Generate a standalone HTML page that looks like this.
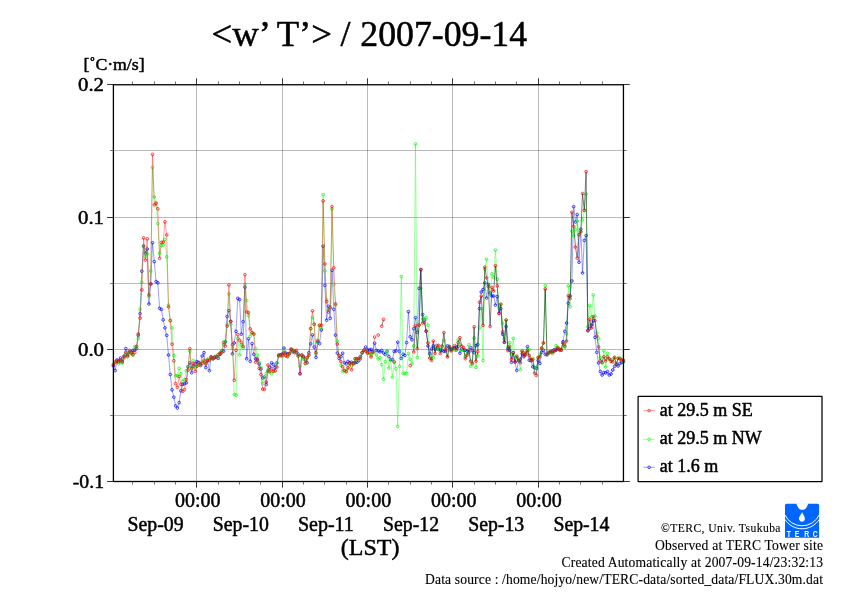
<!DOCTYPE html>
<html><head><meta charset="utf-8"><title>w T flux</title><style>html,body{margin:0;padding:0;background:#fff}body{width:842px;height:595px;overflow:hidden}</style></head><body>
<svg width="842" height="595" viewBox="0 0 842 595" style="display:block;font-family:'Liberation Serif',serif">
<rect width="842" height="595" fill="#fff"/>
<path d="M196.5 84.6 V481.4 M282.5 84.6 V481.4 M367.5 84.6 V481.4 M452.5 84.6 V481.4 M538.5 84.6 V481.4 M113.4 150.5 H623.45 M113.4 217.5 H623.45 M113.4 283.5 H623.45 M113.4 349.5 H623.45 M113.4 415.5 H623.45" stroke="#000" stroke-opacity="0.27" stroke-width="1" fill="none"/>
<polyline points="113.4,366.0 115.2,370.6 117.0,360.0 118.7,361.0 120.5,358.0 122.3,362.0 124.1,356.0 125.8,348.6 127.6,355.0 129.4,352.0 131.2,352.0 132.9,350.4 134.7,350.0 136.5,348.6 138.3,335.3 140.1,313.6 141.8,271.2 143.6,246.0 145.4,253.0 147.2,249.0 148.9,304.0 150.7,284.0 152.5,242.7 154.3,261.6 156.1,281.6 157.8,282.8 159.6,308.3 161.4,309.4 163.2,319.8 164.9,327.9 166.7,335.3 168.5,355.0 170.3,374.5 172.0,389.8 173.8,397.2 175.6,405.8 177.4,408.0 179.2,402.6 180.9,390.8 182.7,384.3 184.5,383.6 186.3,382.8 188.0,366.6 189.8,362.9 191.6,372.7 193.4,366.1 195.2,364.0 196.9,361.5 198.7,362.4 200.5,365.5 202.2,356.0 204.0,352.6 205.8,367.6 207.6,360.8 209.4,370.7 211.1,356.8 212.9,358.9 214.7,357.3 216.5,356.7 218.2,358.3 220.0,354.3 221.8,350.8 223.6,351.2 225.4,341.9 227.1,316.5 228.9,310.6 230.7,321.5 232.5,353.8 234.2,343.0 236.0,331.3 237.8,298.4 239.6,299.6 241.3,334.2 243.1,321.7 244.9,287.2 246.7,358.8 248.5,338.8 250.2,361.3 252.0,343.6 253.8,354.3 255.6,358.8 257.4,360.0 259.1,364.0 260.9,369.0 262.7,378.0 264.4,377.1 266.2,384.6 268.0,371.0 269.8,367.3 271.6,362.8 273.3,364.5 275.1,367.3 276.9,362.8 278.7,356.0 280.4,355.0 282.2,354.0 284.0,348.1 285.8,353.0 287.6,354.0 289.3,353.7 291.1,349.2 292.9,351.7 294.7,351.0 296.4,352.6 298.2,354.2 300.0,373.7 301.8,355.2 303.6,357.0 305.3,360.0 307.1,362.8 308.9,352.7 310.7,343.9 312.4,334.9 314.2,347.1 316.0,357.4 317.8,341.9 319.5,343.6 321.3,330.0 323.1,246.1 324.9,285.4 326.6,320.2 328.4,306.3 330.2,318.4 332.0,270.3 333.8,309.3 335.5,335.1 337.3,353.1 339.1,358.4 340.9,356.7 342.6,353.2 344.4,362.8 346.2,363.8 348.0,361.4 349.8,362.8 351.5,362.3 353.3,363.0 355.1,362.8 356.9,362.3 358.6,360.7 360.4,356.7 362.2,352.5 364.0,350.3 365.8,347.1 367.5,350.0 369.3,349.9 371.1,349.4 372.9,351.4 374.6,343.2 376.4,350.4 378.2,350.9 380.0,351.9 381.7,350.4 383.5,353.0 385.3,354.5 387.1,351.4 388.9,356.5 390.6,360.0 392.4,359.5 394.2,351.4 396.0,350.9 397.7,342.1 399.5,351.4 401.3,358.5 403.1,354.3 404.8,355.5 406.6,342.6 408.4,311.6 410.2,336.8 411.9,339.8 413.7,328.7 415.5,317.6 417.3,332.3 419.1,288.3 420.8,269.6 422.6,314.6 424.4,320.1 426.2,331.2 427.9,345.9 429.7,353.5 431.5,348.9 433.3,345.9 435.1,349.4 436.8,348.4 438.6,349.4 440.4,349.9 442.2,350.4 443.9,351.4 445.7,350.9 447.5,345.9 449.3,347.4 451.1,349.4 452.8,348.4 454.6,348.0 456.4,347.1 458.2,346.6 459.9,353.2 461.7,349.0 463.5,350.0 465.3,350.1 467.0,351.2 468.8,352.2 470.6,347.6 472.4,350.6 474.1,352.7 475.9,345.6 477.7,344.6 479.5,308.6 481.3,292.0 483.0,289.5 484.8,282.9 486.6,298.0 488.4,284.4 490.1,293.0 491.9,296.0 493.7,296.0 495.5,305.1 497.2,296.5 499.0,313.4 500.8,308.6 502.6,334.2 504.4,342.3 506.1,326.5 507.9,348.5 509.7,350.1 511.5,362.3 513.2,352.7 515.0,362.0 516.8,370.5 518.6,360.7 520.4,359.2 522.1,353.7 523.9,356.7 525.7,354.7 527.5,346.6 529.2,360.2 531.0,360.7 532.8,366.8 534.6,367.5 536.4,368.3 538.1,360.4 539.9,363.4 541.7,352.3 543.5,350.3 545.2,354.3 547.0,354.8 548.8,353.0 550.6,352.0 552.3,351.0 554.1,349.8 555.9,350.0 557.7,349.0 559.5,349.2 561.2,350.3 563.0,341.7 564.8,331.3 566.6,323.0 568.3,303.2 570.1,296.0 571.9,281.0 573.7,206.6 575.5,222.0 577.2,214.5 579.0,262.2 580.8,229.3 582.5,273.0 584.3,240.4 586.1,235.5 587.9,330.6 589.7,328.6 591.4,325.0 593.2,321.0 595.0,337.4 596.8,352.3 598.5,362.9 600.3,371.5 602.1,375.0 603.9,372.5 605.7,373.0 607.4,371.5 609.2,375.0 611.0,374.0 612.8,370.0 614.5,366.4 616.3,364.4 618.1,366.0 619.9,363.4 621.6,362.4 623.4,362.0" fill="none" stroke="#0000ff" stroke-width="0.38"/>
<path d="M112.05 366.0a1.35 1.35 0 1 0 2.7 0a1.35 1.35 0 1 0 -2.7 0M113.83 370.6a1.35 1.35 0 1 0 2.7 0a1.35 1.35 0 1 0 -2.7 0M115.60 360.0a1.35 1.35 0 1 0 2.7 0a1.35 1.35 0 1 0 -2.7 0M117.38 361.0a1.35 1.35 0 1 0 2.7 0a1.35 1.35 0 1 0 -2.7 0M119.16 358.0a1.35 1.35 0 1 0 2.7 0a1.35 1.35 0 1 0 -2.7 0M120.94 362.0a1.35 1.35 0 1 0 2.7 0a1.35 1.35 0 1 0 -2.7 0M122.71 356.0a1.35 1.35 0 1 0 2.7 0a1.35 1.35 0 1 0 -2.7 0M124.49 348.6a1.35 1.35 0 1 0 2.7 0a1.35 1.35 0 1 0 -2.7 0M126.27 355.0a1.35 1.35 0 1 0 2.7 0a1.35 1.35 0 1 0 -2.7 0M128.04 352.0a1.35 1.35 0 1 0 2.7 0a1.35 1.35 0 1 0 -2.7 0M129.82 352.0a1.35 1.35 0 1 0 2.7 0a1.35 1.35 0 1 0 -2.7 0M131.60 350.4a1.35 1.35 0 1 0 2.7 0a1.35 1.35 0 1 0 -2.7 0M133.38 350.0a1.35 1.35 0 1 0 2.7 0a1.35 1.35 0 1 0 -2.7 0M135.15 348.6a1.35 1.35 0 1 0 2.7 0a1.35 1.35 0 1 0 -2.7 0M136.93 335.3a1.35 1.35 0 1 0 2.7 0a1.35 1.35 0 1 0 -2.7 0M138.71 313.6a1.35 1.35 0 1 0 2.7 0a1.35 1.35 0 1 0 -2.7 0M140.48 271.2a1.35 1.35 0 1 0 2.7 0a1.35 1.35 0 1 0 -2.7 0M142.26 246.0a1.35 1.35 0 1 0 2.7 0a1.35 1.35 0 1 0 -2.7 0M144.04 253.0a1.35 1.35 0 1 0 2.7 0a1.35 1.35 0 1 0 -2.7 0M145.81 249.0a1.35 1.35 0 1 0 2.7 0a1.35 1.35 0 1 0 -2.7 0M147.59 304.0a1.35 1.35 0 1 0 2.7 0a1.35 1.35 0 1 0 -2.7 0M149.37 284.0a1.35 1.35 0 1 0 2.7 0a1.35 1.35 0 1 0 -2.7 0M151.15 242.7a1.35 1.35 0 1 0 2.7 0a1.35 1.35 0 1 0 -2.7 0M152.92 261.6a1.35 1.35 0 1 0 2.7 0a1.35 1.35 0 1 0 -2.7 0M154.70 281.6a1.35 1.35 0 1 0 2.7 0a1.35 1.35 0 1 0 -2.7 0M156.48 282.8a1.35 1.35 0 1 0 2.7 0a1.35 1.35 0 1 0 -2.7 0M158.25 308.3a1.35 1.35 0 1 0 2.7 0a1.35 1.35 0 1 0 -2.7 0M160.03 309.4a1.35 1.35 0 1 0 2.7 0a1.35 1.35 0 1 0 -2.7 0M161.81 319.8a1.35 1.35 0 1 0 2.7 0a1.35 1.35 0 1 0 -2.7 0M163.59 327.9a1.35 1.35 0 1 0 2.7 0a1.35 1.35 0 1 0 -2.7 0M165.36 335.3a1.35 1.35 0 1 0 2.7 0a1.35 1.35 0 1 0 -2.7 0M167.14 355.0a1.35 1.35 0 1 0 2.7 0a1.35 1.35 0 1 0 -2.7 0M168.92 374.5a1.35 1.35 0 1 0 2.7 0a1.35 1.35 0 1 0 -2.7 0M170.69 389.8a1.35 1.35 0 1 0 2.7 0a1.35 1.35 0 1 0 -2.7 0M172.47 397.2a1.35 1.35 0 1 0 2.7 0a1.35 1.35 0 1 0 -2.7 0M174.25 405.8a1.35 1.35 0 1 0 2.7 0a1.35 1.35 0 1 0 -2.7 0M176.03 408.0a1.35 1.35 0 1 0 2.7 0a1.35 1.35 0 1 0 -2.7 0M177.80 402.6a1.35 1.35 0 1 0 2.7 0a1.35 1.35 0 1 0 -2.7 0M179.58 390.8a1.35 1.35 0 1 0 2.7 0a1.35 1.35 0 1 0 -2.7 0M181.36 384.3a1.35 1.35 0 1 0 2.7 0a1.35 1.35 0 1 0 -2.7 0M183.13 383.6a1.35 1.35 0 1 0 2.7 0a1.35 1.35 0 1 0 -2.7 0M184.91 382.8a1.35 1.35 0 1 0 2.7 0a1.35 1.35 0 1 0 -2.7 0M186.69 366.6a1.35 1.35 0 1 0 2.7 0a1.35 1.35 0 1 0 -2.7 0M188.47 362.9a1.35 1.35 0 1 0 2.7 0a1.35 1.35 0 1 0 -2.7 0M190.24 372.7a1.35 1.35 0 1 0 2.7 0a1.35 1.35 0 1 0 -2.7 0M192.02 366.1a1.35 1.35 0 1 0 2.7 0a1.35 1.35 0 1 0 -2.7 0M193.80 364.0a1.35 1.35 0 1 0 2.7 0a1.35 1.35 0 1 0 -2.7 0M195.57 361.5a1.35 1.35 0 1 0 2.7 0a1.35 1.35 0 1 0 -2.7 0M197.35 362.4a1.35 1.35 0 1 0 2.7 0a1.35 1.35 0 1 0 -2.7 0M199.13 365.5a1.35 1.35 0 1 0 2.7 0a1.35 1.35 0 1 0 -2.7 0M200.90 356.0a1.35 1.35 0 1 0 2.7 0a1.35 1.35 0 1 0 -2.7 0M202.68 352.6a1.35 1.35 0 1 0 2.7 0a1.35 1.35 0 1 0 -2.7 0M204.46 367.6a1.35 1.35 0 1 0 2.7 0a1.35 1.35 0 1 0 -2.7 0M206.24 360.8a1.35 1.35 0 1 0 2.7 0a1.35 1.35 0 1 0 -2.7 0M208.01 370.7a1.35 1.35 0 1 0 2.7 0a1.35 1.35 0 1 0 -2.7 0M209.79 356.8a1.35 1.35 0 1 0 2.7 0a1.35 1.35 0 1 0 -2.7 0M211.57 358.9a1.35 1.35 0 1 0 2.7 0a1.35 1.35 0 1 0 -2.7 0M213.34 357.3a1.35 1.35 0 1 0 2.7 0a1.35 1.35 0 1 0 -2.7 0M215.12 356.7a1.35 1.35 0 1 0 2.7 0a1.35 1.35 0 1 0 -2.7 0M216.90 358.3a1.35 1.35 0 1 0 2.7 0a1.35 1.35 0 1 0 -2.7 0M218.68 354.3a1.35 1.35 0 1 0 2.7 0a1.35 1.35 0 1 0 -2.7 0M220.45 350.8a1.35 1.35 0 1 0 2.7 0a1.35 1.35 0 1 0 -2.7 0M222.23 351.2a1.35 1.35 0 1 0 2.7 0a1.35 1.35 0 1 0 -2.7 0M224.01 341.9a1.35 1.35 0 1 0 2.7 0a1.35 1.35 0 1 0 -2.7 0M225.78 316.5a1.35 1.35 0 1 0 2.7 0a1.35 1.35 0 1 0 -2.7 0M227.56 310.6a1.35 1.35 0 1 0 2.7 0a1.35 1.35 0 1 0 -2.7 0M229.34 321.5a1.35 1.35 0 1 0 2.7 0a1.35 1.35 0 1 0 -2.7 0M231.12 353.8a1.35 1.35 0 1 0 2.7 0a1.35 1.35 0 1 0 -2.7 0M232.89 343.0a1.35 1.35 0 1 0 2.7 0a1.35 1.35 0 1 0 -2.7 0M234.67 331.3a1.35 1.35 0 1 0 2.7 0a1.35 1.35 0 1 0 -2.7 0M236.45 298.4a1.35 1.35 0 1 0 2.7 0a1.35 1.35 0 1 0 -2.7 0M238.22 299.6a1.35 1.35 0 1 0 2.7 0a1.35 1.35 0 1 0 -2.7 0M240.00 334.2a1.35 1.35 0 1 0 2.7 0a1.35 1.35 0 1 0 -2.7 0M241.78 321.7a1.35 1.35 0 1 0 2.7 0a1.35 1.35 0 1 0 -2.7 0M243.56 287.2a1.35 1.35 0 1 0 2.7 0a1.35 1.35 0 1 0 -2.7 0M245.33 358.8a1.35 1.35 0 1 0 2.7 0a1.35 1.35 0 1 0 -2.7 0M247.11 338.8a1.35 1.35 0 1 0 2.7 0a1.35 1.35 0 1 0 -2.7 0M248.89 361.3a1.35 1.35 0 1 0 2.7 0a1.35 1.35 0 1 0 -2.7 0M250.66 343.6a1.35 1.35 0 1 0 2.7 0a1.35 1.35 0 1 0 -2.7 0M252.44 354.3a1.35 1.35 0 1 0 2.7 0a1.35 1.35 0 1 0 -2.7 0M254.22 358.8a1.35 1.35 0 1 0 2.7 0a1.35 1.35 0 1 0 -2.7 0M256.00 360.0a1.35 1.35 0 1 0 2.7 0a1.35 1.35 0 1 0 -2.7 0M257.77 364.0a1.35 1.35 0 1 0 2.7 0a1.35 1.35 0 1 0 -2.7 0M259.55 369.0a1.35 1.35 0 1 0 2.7 0a1.35 1.35 0 1 0 -2.7 0M261.33 378.0a1.35 1.35 0 1 0 2.7 0a1.35 1.35 0 1 0 -2.7 0M263.10 377.1a1.35 1.35 0 1 0 2.7 0a1.35 1.35 0 1 0 -2.7 0M264.88 384.6a1.35 1.35 0 1 0 2.7 0a1.35 1.35 0 1 0 -2.7 0M266.66 371.0a1.35 1.35 0 1 0 2.7 0a1.35 1.35 0 1 0 -2.7 0M268.43 367.3a1.35 1.35 0 1 0 2.7 0a1.35 1.35 0 1 0 -2.7 0M270.21 362.8a1.35 1.35 0 1 0 2.7 0a1.35 1.35 0 1 0 -2.7 0M271.99 364.5a1.35 1.35 0 1 0 2.7 0a1.35 1.35 0 1 0 -2.7 0M273.77 367.3a1.35 1.35 0 1 0 2.7 0a1.35 1.35 0 1 0 -2.7 0M275.54 362.8a1.35 1.35 0 1 0 2.7 0a1.35 1.35 0 1 0 -2.7 0M277.32 356.0a1.35 1.35 0 1 0 2.7 0a1.35 1.35 0 1 0 -2.7 0M279.10 355.0a1.35 1.35 0 1 0 2.7 0a1.35 1.35 0 1 0 -2.7 0M280.87 354.0a1.35 1.35 0 1 0 2.7 0a1.35 1.35 0 1 0 -2.7 0M282.65 348.1a1.35 1.35 0 1 0 2.7 0a1.35 1.35 0 1 0 -2.7 0M284.43 353.0a1.35 1.35 0 1 0 2.7 0a1.35 1.35 0 1 0 -2.7 0M286.21 354.0a1.35 1.35 0 1 0 2.7 0a1.35 1.35 0 1 0 -2.7 0M287.98 353.7a1.35 1.35 0 1 0 2.7 0a1.35 1.35 0 1 0 -2.7 0M289.76 349.2a1.35 1.35 0 1 0 2.7 0a1.35 1.35 0 1 0 -2.7 0M291.54 351.7a1.35 1.35 0 1 0 2.7 0a1.35 1.35 0 1 0 -2.7 0M293.31 351.0a1.35 1.35 0 1 0 2.7 0a1.35 1.35 0 1 0 -2.7 0M295.09 352.6a1.35 1.35 0 1 0 2.7 0a1.35 1.35 0 1 0 -2.7 0M296.87 354.2a1.35 1.35 0 1 0 2.7 0a1.35 1.35 0 1 0 -2.7 0M298.65 373.7a1.35 1.35 0 1 0 2.7 0a1.35 1.35 0 1 0 -2.7 0M300.42 355.2a1.35 1.35 0 1 0 2.7 0a1.35 1.35 0 1 0 -2.7 0M302.20 357.0a1.35 1.35 0 1 0 2.7 0a1.35 1.35 0 1 0 -2.7 0M303.98 360.0a1.35 1.35 0 1 0 2.7 0a1.35 1.35 0 1 0 -2.7 0M305.75 362.8a1.35 1.35 0 1 0 2.7 0a1.35 1.35 0 1 0 -2.7 0M307.53 352.7a1.35 1.35 0 1 0 2.7 0a1.35 1.35 0 1 0 -2.7 0M309.31 343.9a1.35 1.35 0 1 0 2.7 0a1.35 1.35 0 1 0 -2.7 0M311.09 334.9a1.35 1.35 0 1 0 2.7 0a1.35 1.35 0 1 0 -2.7 0M312.86 347.1a1.35 1.35 0 1 0 2.7 0a1.35 1.35 0 1 0 -2.7 0M314.64 357.4a1.35 1.35 0 1 0 2.7 0a1.35 1.35 0 1 0 -2.7 0M316.42 341.9a1.35 1.35 0 1 0 2.7 0a1.35 1.35 0 1 0 -2.7 0M318.19 343.6a1.35 1.35 0 1 0 2.7 0a1.35 1.35 0 1 0 -2.7 0M319.97 330.0a1.35 1.35 0 1 0 2.7 0a1.35 1.35 0 1 0 -2.7 0M321.75 246.1a1.35 1.35 0 1 0 2.7 0a1.35 1.35 0 1 0 -2.7 0M323.52 285.4a1.35 1.35 0 1 0 2.7 0a1.35 1.35 0 1 0 -2.7 0M325.30 320.2a1.35 1.35 0 1 0 2.7 0a1.35 1.35 0 1 0 -2.7 0M327.08 306.3a1.35 1.35 0 1 0 2.7 0a1.35 1.35 0 1 0 -2.7 0M328.86 318.4a1.35 1.35 0 1 0 2.7 0a1.35 1.35 0 1 0 -2.7 0M330.63 270.3a1.35 1.35 0 1 0 2.7 0a1.35 1.35 0 1 0 -2.7 0M332.41 309.3a1.35 1.35 0 1 0 2.7 0a1.35 1.35 0 1 0 -2.7 0M334.19 335.1a1.35 1.35 0 1 0 2.7 0a1.35 1.35 0 1 0 -2.7 0M335.96 353.1a1.35 1.35 0 1 0 2.7 0a1.35 1.35 0 1 0 -2.7 0M337.74 358.4a1.35 1.35 0 1 0 2.7 0a1.35 1.35 0 1 0 -2.7 0M339.52 356.7a1.35 1.35 0 1 0 2.7 0a1.35 1.35 0 1 0 -2.7 0M341.30 353.2a1.35 1.35 0 1 0 2.7 0a1.35 1.35 0 1 0 -2.7 0M343.07 362.8a1.35 1.35 0 1 0 2.7 0a1.35 1.35 0 1 0 -2.7 0M344.85 363.8a1.35 1.35 0 1 0 2.7 0a1.35 1.35 0 1 0 -2.7 0M346.63 361.4a1.35 1.35 0 1 0 2.7 0a1.35 1.35 0 1 0 -2.7 0M348.40 362.8a1.35 1.35 0 1 0 2.7 0a1.35 1.35 0 1 0 -2.7 0M350.18 362.3a1.35 1.35 0 1 0 2.7 0a1.35 1.35 0 1 0 -2.7 0M351.96 363.0a1.35 1.35 0 1 0 2.7 0a1.35 1.35 0 1 0 -2.7 0M353.74 362.8a1.35 1.35 0 1 0 2.7 0a1.35 1.35 0 1 0 -2.7 0M355.51 362.3a1.35 1.35 0 1 0 2.7 0a1.35 1.35 0 1 0 -2.7 0M357.29 360.7a1.35 1.35 0 1 0 2.7 0a1.35 1.35 0 1 0 -2.7 0M359.07 356.7a1.35 1.35 0 1 0 2.7 0a1.35 1.35 0 1 0 -2.7 0M360.84 352.5a1.35 1.35 0 1 0 2.7 0a1.35 1.35 0 1 0 -2.7 0M362.62 350.3a1.35 1.35 0 1 0 2.7 0a1.35 1.35 0 1 0 -2.7 0M364.40 347.1a1.35 1.35 0 1 0 2.7 0a1.35 1.35 0 1 0 -2.7 0M366.18 350.0a1.35 1.35 0 1 0 2.7 0a1.35 1.35 0 1 0 -2.7 0M367.95 349.9a1.35 1.35 0 1 0 2.7 0a1.35 1.35 0 1 0 -2.7 0M369.73 349.4a1.35 1.35 0 1 0 2.7 0a1.35 1.35 0 1 0 -2.7 0M371.51 351.4a1.35 1.35 0 1 0 2.7 0a1.35 1.35 0 1 0 -2.7 0M373.28 343.2a1.35 1.35 0 1 0 2.7 0a1.35 1.35 0 1 0 -2.7 0M375.06 350.4a1.35 1.35 0 1 0 2.7 0a1.35 1.35 0 1 0 -2.7 0M376.84 350.9a1.35 1.35 0 1 0 2.7 0a1.35 1.35 0 1 0 -2.7 0M378.62 351.9a1.35 1.35 0 1 0 2.7 0a1.35 1.35 0 1 0 -2.7 0M380.39 350.4a1.35 1.35 0 1 0 2.7 0a1.35 1.35 0 1 0 -2.7 0M382.17 353.0a1.35 1.35 0 1 0 2.7 0a1.35 1.35 0 1 0 -2.7 0M383.95 354.5a1.35 1.35 0 1 0 2.7 0a1.35 1.35 0 1 0 -2.7 0M385.72 351.4a1.35 1.35 0 1 0 2.7 0a1.35 1.35 0 1 0 -2.7 0M387.50 356.5a1.35 1.35 0 1 0 2.7 0a1.35 1.35 0 1 0 -2.7 0M389.28 360.0a1.35 1.35 0 1 0 2.7 0a1.35 1.35 0 1 0 -2.7 0M391.05 359.5a1.35 1.35 0 1 0 2.7 0a1.35 1.35 0 1 0 -2.7 0M392.83 351.4a1.35 1.35 0 1 0 2.7 0a1.35 1.35 0 1 0 -2.7 0M394.61 350.9a1.35 1.35 0 1 0 2.7 0a1.35 1.35 0 1 0 -2.7 0M396.39 342.1a1.35 1.35 0 1 0 2.7 0a1.35 1.35 0 1 0 -2.7 0M398.16 351.4a1.35 1.35 0 1 0 2.7 0a1.35 1.35 0 1 0 -2.7 0M399.94 358.5a1.35 1.35 0 1 0 2.7 0a1.35 1.35 0 1 0 -2.7 0M401.72 354.3a1.35 1.35 0 1 0 2.7 0a1.35 1.35 0 1 0 -2.7 0M403.49 355.5a1.35 1.35 0 1 0 2.7 0a1.35 1.35 0 1 0 -2.7 0M405.27 342.6a1.35 1.35 0 1 0 2.7 0a1.35 1.35 0 1 0 -2.7 0M407.05 311.6a1.35 1.35 0 1 0 2.7 0a1.35 1.35 0 1 0 -2.7 0M408.83 336.8a1.35 1.35 0 1 0 2.7 0a1.35 1.35 0 1 0 -2.7 0M410.60 339.8a1.35 1.35 0 1 0 2.7 0a1.35 1.35 0 1 0 -2.7 0M412.38 328.7a1.35 1.35 0 1 0 2.7 0a1.35 1.35 0 1 0 -2.7 0M414.16 317.6a1.35 1.35 0 1 0 2.7 0a1.35 1.35 0 1 0 -2.7 0M415.93 332.3a1.35 1.35 0 1 0 2.7 0a1.35 1.35 0 1 0 -2.7 0M417.71 288.3a1.35 1.35 0 1 0 2.7 0a1.35 1.35 0 1 0 -2.7 0M419.49 269.6a1.35 1.35 0 1 0 2.7 0a1.35 1.35 0 1 0 -2.7 0M421.27 314.6a1.35 1.35 0 1 0 2.7 0a1.35 1.35 0 1 0 -2.7 0M423.04 320.1a1.35 1.35 0 1 0 2.7 0a1.35 1.35 0 1 0 -2.7 0M424.82 331.2a1.35 1.35 0 1 0 2.7 0a1.35 1.35 0 1 0 -2.7 0M426.60 345.9a1.35 1.35 0 1 0 2.7 0a1.35 1.35 0 1 0 -2.7 0M428.37 353.5a1.35 1.35 0 1 0 2.7 0a1.35 1.35 0 1 0 -2.7 0M430.15 348.9a1.35 1.35 0 1 0 2.7 0a1.35 1.35 0 1 0 -2.7 0M431.93 345.9a1.35 1.35 0 1 0 2.7 0a1.35 1.35 0 1 0 -2.7 0M433.71 349.4a1.35 1.35 0 1 0 2.7 0a1.35 1.35 0 1 0 -2.7 0M435.48 348.4a1.35 1.35 0 1 0 2.7 0a1.35 1.35 0 1 0 -2.7 0M437.26 349.4a1.35 1.35 0 1 0 2.7 0a1.35 1.35 0 1 0 -2.7 0M439.04 349.9a1.35 1.35 0 1 0 2.7 0a1.35 1.35 0 1 0 -2.7 0M440.81 350.4a1.35 1.35 0 1 0 2.7 0a1.35 1.35 0 1 0 -2.7 0M442.59 351.4a1.35 1.35 0 1 0 2.7 0a1.35 1.35 0 1 0 -2.7 0M444.37 350.9a1.35 1.35 0 1 0 2.7 0a1.35 1.35 0 1 0 -2.7 0M446.14 345.9a1.35 1.35 0 1 0 2.7 0a1.35 1.35 0 1 0 -2.7 0M447.92 347.4a1.35 1.35 0 1 0 2.7 0a1.35 1.35 0 1 0 -2.7 0M449.70 349.4a1.35 1.35 0 1 0 2.7 0a1.35 1.35 0 1 0 -2.7 0M451.48 348.4a1.35 1.35 0 1 0 2.7 0a1.35 1.35 0 1 0 -2.7 0M453.25 348.0a1.35 1.35 0 1 0 2.7 0a1.35 1.35 0 1 0 -2.7 0M455.03 347.1a1.35 1.35 0 1 0 2.7 0a1.35 1.35 0 1 0 -2.7 0M456.81 346.6a1.35 1.35 0 1 0 2.7 0a1.35 1.35 0 1 0 -2.7 0M458.58 353.2a1.35 1.35 0 1 0 2.7 0a1.35 1.35 0 1 0 -2.7 0M460.36 349.0a1.35 1.35 0 1 0 2.7 0a1.35 1.35 0 1 0 -2.7 0M462.14 350.0a1.35 1.35 0 1 0 2.7 0a1.35 1.35 0 1 0 -2.7 0M463.92 350.1a1.35 1.35 0 1 0 2.7 0a1.35 1.35 0 1 0 -2.7 0M465.69 351.2a1.35 1.35 0 1 0 2.7 0a1.35 1.35 0 1 0 -2.7 0M467.47 352.2a1.35 1.35 0 1 0 2.7 0a1.35 1.35 0 1 0 -2.7 0M469.25 347.6a1.35 1.35 0 1 0 2.7 0a1.35 1.35 0 1 0 -2.7 0M471.02 350.6a1.35 1.35 0 1 0 2.7 0a1.35 1.35 0 1 0 -2.7 0M472.80 352.7a1.35 1.35 0 1 0 2.7 0a1.35 1.35 0 1 0 -2.7 0M474.58 345.6a1.35 1.35 0 1 0 2.7 0a1.35 1.35 0 1 0 -2.7 0M476.36 344.6a1.35 1.35 0 1 0 2.7 0a1.35 1.35 0 1 0 -2.7 0M478.13 308.6a1.35 1.35 0 1 0 2.7 0a1.35 1.35 0 1 0 -2.7 0M479.91 292.0a1.35 1.35 0 1 0 2.7 0a1.35 1.35 0 1 0 -2.7 0M481.69 289.5a1.35 1.35 0 1 0 2.7 0a1.35 1.35 0 1 0 -2.7 0M483.46 282.9a1.35 1.35 0 1 0 2.7 0a1.35 1.35 0 1 0 -2.7 0M485.24 298.0a1.35 1.35 0 1 0 2.7 0a1.35 1.35 0 1 0 -2.7 0M487.02 284.4a1.35 1.35 0 1 0 2.7 0a1.35 1.35 0 1 0 -2.7 0M488.80 293.0a1.35 1.35 0 1 0 2.7 0a1.35 1.35 0 1 0 -2.7 0M490.57 296.0a1.35 1.35 0 1 0 2.7 0a1.35 1.35 0 1 0 -2.7 0M492.35 296.0a1.35 1.35 0 1 0 2.7 0a1.35 1.35 0 1 0 -2.7 0M494.13 305.1a1.35 1.35 0 1 0 2.7 0a1.35 1.35 0 1 0 -2.7 0M495.90 296.5a1.35 1.35 0 1 0 2.7 0a1.35 1.35 0 1 0 -2.7 0M497.68 313.4a1.35 1.35 0 1 0 2.7 0a1.35 1.35 0 1 0 -2.7 0M499.46 308.6a1.35 1.35 0 1 0 2.7 0a1.35 1.35 0 1 0 -2.7 0M501.23 334.2a1.35 1.35 0 1 0 2.7 0a1.35 1.35 0 1 0 -2.7 0M503.01 342.3a1.35 1.35 0 1 0 2.7 0a1.35 1.35 0 1 0 -2.7 0M504.79 326.5a1.35 1.35 0 1 0 2.7 0a1.35 1.35 0 1 0 -2.7 0M506.57 348.5a1.35 1.35 0 1 0 2.7 0a1.35 1.35 0 1 0 -2.7 0M508.34 350.1a1.35 1.35 0 1 0 2.7 0a1.35 1.35 0 1 0 -2.7 0M510.12 362.3a1.35 1.35 0 1 0 2.7 0a1.35 1.35 0 1 0 -2.7 0M511.90 352.7a1.35 1.35 0 1 0 2.7 0a1.35 1.35 0 1 0 -2.7 0M513.67 362.0a1.35 1.35 0 1 0 2.7 0a1.35 1.35 0 1 0 -2.7 0M515.45 370.5a1.35 1.35 0 1 0 2.7 0a1.35 1.35 0 1 0 -2.7 0M517.23 360.7a1.35 1.35 0 1 0 2.7 0a1.35 1.35 0 1 0 -2.7 0M519.01 359.2a1.35 1.35 0 1 0 2.7 0a1.35 1.35 0 1 0 -2.7 0M520.78 353.7a1.35 1.35 0 1 0 2.7 0a1.35 1.35 0 1 0 -2.7 0M522.56 356.7a1.35 1.35 0 1 0 2.7 0a1.35 1.35 0 1 0 -2.7 0M524.34 354.7a1.35 1.35 0 1 0 2.7 0a1.35 1.35 0 1 0 -2.7 0M526.11 346.6a1.35 1.35 0 1 0 2.7 0a1.35 1.35 0 1 0 -2.7 0M527.89 360.2a1.35 1.35 0 1 0 2.7 0a1.35 1.35 0 1 0 -2.7 0M529.67 360.7a1.35 1.35 0 1 0 2.7 0a1.35 1.35 0 1 0 -2.7 0M531.45 366.8a1.35 1.35 0 1 0 2.7 0a1.35 1.35 0 1 0 -2.7 0M533.22 367.5a1.35 1.35 0 1 0 2.7 0a1.35 1.35 0 1 0 -2.7 0M535.00 368.3a1.35 1.35 0 1 0 2.7 0a1.35 1.35 0 1 0 -2.7 0M536.78 360.4a1.35 1.35 0 1 0 2.7 0a1.35 1.35 0 1 0 -2.7 0M538.55 363.4a1.35 1.35 0 1 0 2.7 0a1.35 1.35 0 1 0 -2.7 0M540.33 352.3a1.35 1.35 0 1 0 2.7 0a1.35 1.35 0 1 0 -2.7 0M542.11 350.3a1.35 1.35 0 1 0 2.7 0a1.35 1.35 0 1 0 -2.7 0M543.89 354.3a1.35 1.35 0 1 0 2.7 0a1.35 1.35 0 1 0 -2.7 0M545.66 354.8a1.35 1.35 0 1 0 2.7 0a1.35 1.35 0 1 0 -2.7 0M547.44 353.0a1.35 1.35 0 1 0 2.7 0a1.35 1.35 0 1 0 -2.7 0M549.22 352.0a1.35 1.35 0 1 0 2.7 0a1.35 1.35 0 1 0 -2.7 0M550.99 351.0a1.35 1.35 0 1 0 2.7 0a1.35 1.35 0 1 0 -2.7 0M552.77 349.8a1.35 1.35 0 1 0 2.7 0a1.35 1.35 0 1 0 -2.7 0M554.55 350.0a1.35 1.35 0 1 0 2.7 0a1.35 1.35 0 1 0 -2.7 0M556.32 349.0a1.35 1.35 0 1 0 2.7 0a1.35 1.35 0 1 0 -2.7 0M558.10 349.2a1.35 1.35 0 1 0 2.7 0a1.35 1.35 0 1 0 -2.7 0M559.88 350.3a1.35 1.35 0 1 0 2.7 0a1.35 1.35 0 1 0 -2.7 0M561.66 341.7a1.35 1.35 0 1 0 2.7 0a1.35 1.35 0 1 0 -2.7 0M563.43 331.3a1.35 1.35 0 1 0 2.7 0a1.35 1.35 0 1 0 -2.7 0M565.21 323.0a1.35 1.35 0 1 0 2.7 0a1.35 1.35 0 1 0 -2.7 0M566.99 303.2a1.35 1.35 0 1 0 2.7 0a1.35 1.35 0 1 0 -2.7 0M568.76 296.0a1.35 1.35 0 1 0 2.7 0a1.35 1.35 0 1 0 -2.7 0M570.54 281.0a1.35 1.35 0 1 0 2.7 0a1.35 1.35 0 1 0 -2.7 0M572.32 206.6a1.35 1.35 0 1 0 2.7 0a1.35 1.35 0 1 0 -2.7 0M574.10 222.0a1.35 1.35 0 1 0 2.7 0a1.35 1.35 0 1 0 -2.7 0M575.87 214.5a1.35 1.35 0 1 0 2.7 0a1.35 1.35 0 1 0 -2.7 0M577.65 262.2a1.35 1.35 0 1 0 2.7 0a1.35 1.35 0 1 0 -2.7 0M579.43 229.3a1.35 1.35 0 1 0 2.7 0a1.35 1.35 0 1 0 -2.7 0M581.20 273.0a1.35 1.35 0 1 0 2.7 0a1.35 1.35 0 1 0 -2.7 0M582.98 240.4a1.35 1.35 0 1 0 2.7 0a1.35 1.35 0 1 0 -2.7 0M584.76 235.5a1.35 1.35 0 1 0 2.7 0a1.35 1.35 0 1 0 -2.7 0M586.54 330.6a1.35 1.35 0 1 0 2.7 0a1.35 1.35 0 1 0 -2.7 0M588.31 328.6a1.35 1.35 0 1 0 2.7 0a1.35 1.35 0 1 0 -2.7 0M590.09 325.0a1.35 1.35 0 1 0 2.7 0a1.35 1.35 0 1 0 -2.7 0M591.87 321.0a1.35 1.35 0 1 0 2.7 0a1.35 1.35 0 1 0 -2.7 0M593.64 337.4a1.35 1.35 0 1 0 2.7 0a1.35 1.35 0 1 0 -2.7 0M595.42 352.3a1.35 1.35 0 1 0 2.7 0a1.35 1.35 0 1 0 -2.7 0M597.20 362.9a1.35 1.35 0 1 0 2.7 0a1.35 1.35 0 1 0 -2.7 0M598.98 371.5a1.35 1.35 0 1 0 2.7 0a1.35 1.35 0 1 0 -2.7 0M600.75 375.0a1.35 1.35 0 1 0 2.7 0a1.35 1.35 0 1 0 -2.7 0M602.53 372.5a1.35 1.35 0 1 0 2.7 0a1.35 1.35 0 1 0 -2.7 0M604.31 373.0a1.35 1.35 0 1 0 2.7 0a1.35 1.35 0 1 0 -2.7 0M606.08 371.5a1.35 1.35 0 1 0 2.7 0a1.35 1.35 0 1 0 -2.7 0M607.86 375.0a1.35 1.35 0 1 0 2.7 0a1.35 1.35 0 1 0 -2.7 0M609.64 374.0a1.35 1.35 0 1 0 2.7 0a1.35 1.35 0 1 0 -2.7 0M611.42 370.0a1.35 1.35 0 1 0 2.7 0a1.35 1.35 0 1 0 -2.7 0M613.19 366.4a1.35 1.35 0 1 0 2.7 0a1.35 1.35 0 1 0 -2.7 0M614.97 364.4a1.35 1.35 0 1 0 2.7 0a1.35 1.35 0 1 0 -2.7 0M616.75 366.0a1.35 1.35 0 1 0 2.7 0a1.35 1.35 0 1 0 -2.7 0M618.52 363.4a1.35 1.35 0 1 0 2.7 0a1.35 1.35 0 1 0 -2.7 0M620.30 362.4a1.35 1.35 0 1 0 2.7 0a1.35 1.35 0 1 0 -2.7 0M622.08 362.0a1.35 1.35 0 1 0 2.7 0a1.35 1.35 0 1 0 -2.7 0" fill="none" stroke="#0000ff" stroke-width="0.72"/>
<polyline points="113.4,364.0 115.2,363.0 117.0,362.0 118.7,364.0 120.5,362.0 122.3,363.0 124.1,358.0 125.8,354.0 127.6,357.0 129.4,352.0 131.2,353.5 132.9,355.0 134.7,346.6 136.5,347.0 138.3,338.5 140.1,309.3 141.8,282.3 143.6,247.0 145.4,256.6 147.2,253.8 148.9,296.6 150.7,271.0 152.5,167.3 154.3,197.0 156.1,202.6 157.8,223.6 159.6,253.5 161.4,245.5 163.2,245.0 164.9,239.4 166.7,256.8 168.5,305.0 170.3,320.6 172.0,327.9 173.8,355.5 175.6,375.7 177.4,375.7 179.2,368.4 180.9,373.7 182.7,381.4 184.5,379.7 186.3,370.6 188.0,367.1 189.8,351.2 191.6,368.0 193.4,360.5 195.2,367.0 196.9,365.6 198.7,364.8 200.5,363.5 202.2,361.7 204.0,362.2 205.8,363.7 207.6,358.9 209.4,360.7 211.1,357.8 212.9,358.9 214.7,356.5 216.5,356.2 218.2,356.6 220.0,352.7 221.8,351.1 223.6,345.0 225.4,341.3 227.1,324.7 228.9,293.9 230.7,324.2 232.5,348.1 234.2,394.6 236.0,395.1 237.8,338.5 239.6,354.9 241.3,345.0 243.1,348.1 244.9,284.4 246.7,300.5 248.5,315.5 250.2,336.2 252.0,333.0 253.8,334.2 255.6,348.7 257.4,355.2 259.1,362.2 260.9,367.3 262.7,383.7 264.4,376.9 266.2,373.5 268.0,370.0 269.8,372.0 271.6,373.5 273.3,370.7 275.1,370.7 276.9,362.8 278.7,355.5 280.4,356.0 282.2,356.5 284.0,350.6 285.8,355.7 287.6,356.0 289.3,353.4 291.1,351.3 292.9,349.4 294.7,351.8 296.4,352.5 298.2,355.4 300.0,366.3 301.8,355.8 303.6,359.2 305.3,363.8 307.1,358.0 308.9,355.2 310.7,328.6 312.4,317.4 314.2,324.3 316.0,354.2 317.8,342.6 319.5,325.3 321.3,327.8 323.1,194.6 324.9,270.8 326.6,300.0 328.4,310.1 330.2,308.1 332.0,209.0 333.8,284.4 335.5,305.1 337.3,341.2 339.1,355.7 340.9,365.3 342.6,371.3 344.4,370.8 346.2,371.8 348.0,368.3 349.8,364.0 351.5,365.8 353.3,363.8 355.1,359.0 356.9,359.2 358.6,358.9 360.4,358.0 362.2,352.9 364.0,350.5 365.8,350.1 367.5,352.5 369.3,353.5 371.1,355.5 372.9,353.0 374.6,351.4 376.4,355.0 378.2,359.0 380.0,357.5 381.7,364.6 383.5,379.2 385.3,361.6 387.1,351.4 388.9,368.1 390.6,359.0 392.4,377.4 394.2,361.5 396.0,368.6 397.7,426.5 399.5,366.3 401.3,276.4 403.1,373.2 404.8,373.4 406.6,373.4 408.4,353.5 410.2,359.2 411.9,363.9 413.7,345.9 415.5,143.9 417.3,357.7 419.1,325.0 420.8,288.3 422.6,319.1 424.4,318.6 426.2,317.6 427.9,325.2 429.7,354.5 431.5,358.6 433.3,357.5 435.1,348.4 436.8,348.4 438.6,349.4 440.4,349.4 442.2,345.9 443.9,340.3 445.7,348.4 447.5,356.5 449.3,346.4 451.1,350.4 452.8,349.4 454.6,350.1 456.4,349.0 458.2,340.0 459.9,345.0 461.7,350.1 463.5,350.0 465.3,356.7 467.0,354.0 468.8,344.8 470.6,366.3 472.4,364.3 474.1,337.9 475.9,367.3 477.7,355.7 479.5,327.8 481.3,308.6 483.0,360.5 484.8,269.3 486.6,259.2 488.4,286.4 490.1,294.5 491.9,273.8 493.7,277.4 495.5,250.1 497.2,279.2 499.0,307.6 500.8,304.3 502.6,323.3 504.4,339.2 506.1,320.0 507.9,347.0 509.7,342.5 511.5,353.7 513.2,338.3 515.0,358.2 516.8,356.7 518.6,359.2 520.4,369.8 522.1,350.6 523.9,352.7 525.7,353.7 527.5,350.1 529.2,349.6 531.0,359.2 532.8,358.4 534.6,367.3 536.4,368.3 538.1,358.0 539.9,354.8 541.7,348.1 543.5,343.0 545.2,285.7 547.0,354.5 548.8,353.0 550.6,352.3 552.3,353.8 554.1,351.0 555.9,345.7 557.7,347.3 559.5,350.2 561.2,349.4 563.0,343.0 564.8,347.3 566.6,333.9 568.3,286.0 570.1,306.7 571.9,231.2 573.7,236.0 575.5,229.6 577.2,221.0 579.0,234.7 580.8,231.7 582.5,219.8 584.3,210.4 586.1,194.1 587.9,326.6 589.7,305.4 591.4,317.5 593.2,294.8 595.0,316.0 596.8,332.9 598.5,338.2 600.3,357.9 602.1,362.9 603.9,350.8 605.7,367.0 607.4,353.3 609.2,358.9 611.0,360.0 612.8,359.4 614.5,357.4 616.3,363.4 618.1,358.4 619.9,358.0 621.6,360.4 623.4,361.5" fill="none" stroke="#00ff00" stroke-width="0.38"/>
<path d="M112.05 364.0a1.35 1.35 0 1 0 2.7 0a1.35 1.35 0 1 0 -2.7 0M113.83 363.0a1.35 1.35 0 1 0 2.7 0a1.35 1.35 0 1 0 -2.7 0M115.60 362.0a1.35 1.35 0 1 0 2.7 0a1.35 1.35 0 1 0 -2.7 0M117.38 364.0a1.35 1.35 0 1 0 2.7 0a1.35 1.35 0 1 0 -2.7 0M119.16 362.0a1.35 1.35 0 1 0 2.7 0a1.35 1.35 0 1 0 -2.7 0M120.94 363.0a1.35 1.35 0 1 0 2.7 0a1.35 1.35 0 1 0 -2.7 0M122.71 358.0a1.35 1.35 0 1 0 2.7 0a1.35 1.35 0 1 0 -2.7 0M124.49 354.0a1.35 1.35 0 1 0 2.7 0a1.35 1.35 0 1 0 -2.7 0M126.27 357.0a1.35 1.35 0 1 0 2.7 0a1.35 1.35 0 1 0 -2.7 0M128.04 352.0a1.35 1.35 0 1 0 2.7 0a1.35 1.35 0 1 0 -2.7 0M129.82 353.5a1.35 1.35 0 1 0 2.7 0a1.35 1.35 0 1 0 -2.7 0M131.60 355.0a1.35 1.35 0 1 0 2.7 0a1.35 1.35 0 1 0 -2.7 0M133.38 346.6a1.35 1.35 0 1 0 2.7 0a1.35 1.35 0 1 0 -2.7 0M135.15 347.0a1.35 1.35 0 1 0 2.7 0a1.35 1.35 0 1 0 -2.7 0M136.93 338.5a1.35 1.35 0 1 0 2.7 0a1.35 1.35 0 1 0 -2.7 0M138.71 309.3a1.35 1.35 0 1 0 2.7 0a1.35 1.35 0 1 0 -2.7 0M140.48 282.3a1.35 1.35 0 1 0 2.7 0a1.35 1.35 0 1 0 -2.7 0M142.26 247.0a1.35 1.35 0 1 0 2.7 0a1.35 1.35 0 1 0 -2.7 0M144.04 256.6a1.35 1.35 0 1 0 2.7 0a1.35 1.35 0 1 0 -2.7 0M145.81 253.8a1.35 1.35 0 1 0 2.7 0a1.35 1.35 0 1 0 -2.7 0M147.59 296.6a1.35 1.35 0 1 0 2.7 0a1.35 1.35 0 1 0 -2.7 0M149.37 271.0a1.35 1.35 0 1 0 2.7 0a1.35 1.35 0 1 0 -2.7 0M151.15 167.3a1.35 1.35 0 1 0 2.7 0a1.35 1.35 0 1 0 -2.7 0M152.92 197.0a1.35 1.35 0 1 0 2.7 0a1.35 1.35 0 1 0 -2.7 0M154.70 202.6a1.35 1.35 0 1 0 2.7 0a1.35 1.35 0 1 0 -2.7 0M156.48 223.6a1.35 1.35 0 1 0 2.7 0a1.35 1.35 0 1 0 -2.7 0M158.25 253.5a1.35 1.35 0 1 0 2.7 0a1.35 1.35 0 1 0 -2.7 0M160.03 245.5a1.35 1.35 0 1 0 2.7 0a1.35 1.35 0 1 0 -2.7 0M161.81 245.0a1.35 1.35 0 1 0 2.7 0a1.35 1.35 0 1 0 -2.7 0M163.59 239.4a1.35 1.35 0 1 0 2.7 0a1.35 1.35 0 1 0 -2.7 0M165.36 256.8a1.35 1.35 0 1 0 2.7 0a1.35 1.35 0 1 0 -2.7 0M167.14 305.0a1.35 1.35 0 1 0 2.7 0a1.35 1.35 0 1 0 -2.7 0M168.92 320.6a1.35 1.35 0 1 0 2.7 0a1.35 1.35 0 1 0 -2.7 0M170.69 327.9a1.35 1.35 0 1 0 2.7 0a1.35 1.35 0 1 0 -2.7 0M172.47 355.5a1.35 1.35 0 1 0 2.7 0a1.35 1.35 0 1 0 -2.7 0M174.25 375.7a1.35 1.35 0 1 0 2.7 0a1.35 1.35 0 1 0 -2.7 0M176.03 375.7a1.35 1.35 0 1 0 2.7 0a1.35 1.35 0 1 0 -2.7 0M177.80 368.4a1.35 1.35 0 1 0 2.7 0a1.35 1.35 0 1 0 -2.7 0M179.58 373.7a1.35 1.35 0 1 0 2.7 0a1.35 1.35 0 1 0 -2.7 0M181.36 381.4a1.35 1.35 0 1 0 2.7 0a1.35 1.35 0 1 0 -2.7 0M183.13 379.7a1.35 1.35 0 1 0 2.7 0a1.35 1.35 0 1 0 -2.7 0M184.91 370.6a1.35 1.35 0 1 0 2.7 0a1.35 1.35 0 1 0 -2.7 0M186.69 367.1a1.35 1.35 0 1 0 2.7 0a1.35 1.35 0 1 0 -2.7 0M188.47 351.2a1.35 1.35 0 1 0 2.7 0a1.35 1.35 0 1 0 -2.7 0M190.24 368.0a1.35 1.35 0 1 0 2.7 0a1.35 1.35 0 1 0 -2.7 0M192.02 360.5a1.35 1.35 0 1 0 2.7 0a1.35 1.35 0 1 0 -2.7 0M193.80 367.0a1.35 1.35 0 1 0 2.7 0a1.35 1.35 0 1 0 -2.7 0M195.57 365.6a1.35 1.35 0 1 0 2.7 0a1.35 1.35 0 1 0 -2.7 0M197.35 364.8a1.35 1.35 0 1 0 2.7 0a1.35 1.35 0 1 0 -2.7 0M199.13 363.5a1.35 1.35 0 1 0 2.7 0a1.35 1.35 0 1 0 -2.7 0M200.90 361.7a1.35 1.35 0 1 0 2.7 0a1.35 1.35 0 1 0 -2.7 0M202.68 362.2a1.35 1.35 0 1 0 2.7 0a1.35 1.35 0 1 0 -2.7 0M204.46 363.7a1.35 1.35 0 1 0 2.7 0a1.35 1.35 0 1 0 -2.7 0M206.24 358.9a1.35 1.35 0 1 0 2.7 0a1.35 1.35 0 1 0 -2.7 0M208.01 360.7a1.35 1.35 0 1 0 2.7 0a1.35 1.35 0 1 0 -2.7 0M209.79 357.8a1.35 1.35 0 1 0 2.7 0a1.35 1.35 0 1 0 -2.7 0M211.57 358.9a1.35 1.35 0 1 0 2.7 0a1.35 1.35 0 1 0 -2.7 0M213.34 356.5a1.35 1.35 0 1 0 2.7 0a1.35 1.35 0 1 0 -2.7 0M215.12 356.2a1.35 1.35 0 1 0 2.7 0a1.35 1.35 0 1 0 -2.7 0M216.90 356.6a1.35 1.35 0 1 0 2.7 0a1.35 1.35 0 1 0 -2.7 0M218.68 352.7a1.35 1.35 0 1 0 2.7 0a1.35 1.35 0 1 0 -2.7 0M220.45 351.1a1.35 1.35 0 1 0 2.7 0a1.35 1.35 0 1 0 -2.7 0M222.23 345.0a1.35 1.35 0 1 0 2.7 0a1.35 1.35 0 1 0 -2.7 0M224.01 341.3a1.35 1.35 0 1 0 2.7 0a1.35 1.35 0 1 0 -2.7 0M225.78 324.7a1.35 1.35 0 1 0 2.7 0a1.35 1.35 0 1 0 -2.7 0M227.56 293.9a1.35 1.35 0 1 0 2.7 0a1.35 1.35 0 1 0 -2.7 0M229.34 324.2a1.35 1.35 0 1 0 2.7 0a1.35 1.35 0 1 0 -2.7 0M231.12 348.1a1.35 1.35 0 1 0 2.7 0a1.35 1.35 0 1 0 -2.7 0M232.89 394.6a1.35 1.35 0 1 0 2.7 0a1.35 1.35 0 1 0 -2.7 0M234.67 395.1a1.35 1.35 0 1 0 2.7 0a1.35 1.35 0 1 0 -2.7 0M236.45 338.5a1.35 1.35 0 1 0 2.7 0a1.35 1.35 0 1 0 -2.7 0M238.22 354.9a1.35 1.35 0 1 0 2.7 0a1.35 1.35 0 1 0 -2.7 0M240.00 345.0a1.35 1.35 0 1 0 2.7 0a1.35 1.35 0 1 0 -2.7 0M241.78 348.1a1.35 1.35 0 1 0 2.7 0a1.35 1.35 0 1 0 -2.7 0M243.56 284.4a1.35 1.35 0 1 0 2.7 0a1.35 1.35 0 1 0 -2.7 0M245.33 300.5a1.35 1.35 0 1 0 2.7 0a1.35 1.35 0 1 0 -2.7 0M247.11 315.5a1.35 1.35 0 1 0 2.7 0a1.35 1.35 0 1 0 -2.7 0M248.89 336.2a1.35 1.35 0 1 0 2.7 0a1.35 1.35 0 1 0 -2.7 0M250.66 333.0a1.35 1.35 0 1 0 2.7 0a1.35 1.35 0 1 0 -2.7 0M252.44 334.2a1.35 1.35 0 1 0 2.7 0a1.35 1.35 0 1 0 -2.7 0M254.22 348.7a1.35 1.35 0 1 0 2.7 0a1.35 1.35 0 1 0 -2.7 0M256.00 355.2a1.35 1.35 0 1 0 2.7 0a1.35 1.35 0 1 0 -2.7 0M257.77 362.2a1.35 1.35 0 1 0 2.7 0a1.35 1.35 0 1 0 -2.7 0M259.55 367.3a1.35 1.35 0 1 0 2.7 0a1.35 1.35 0 1 0 -2.7 0M261.33 383.7a1.35 1.35 0 1 0 2.7 0a1.35 1.35 0 1 0 -2.7 0M263.10 376.9a1.35 1.35 0 1 0 2.7 0a1.35 1.35 0 1 0 -2.7 0M264.88 373.5a1.35 1.35 0 1 0 2.7 0a1.35 1.35 0 1 0 -2.7 0M266.66 370.0a1.35 1.35 0 1 0 2.7 0a1.35 1.35 0 1 0 -2.7 0M268.43 372.0a1.35 1.35 0 1 0 2.7 0a1.35 1.35 0 1 0 -2.7 0M270.21 373.5a1.35 1.35 0 1 0 2.7 0a1.35 1.35 0 1 0 -2.7 0M271.99 370.7a1.35 1.35 0 1 0 2.7 0a1.35 1.35 0 1 0 -2.7 0M273.77 370.7a1.35 1.35 0 1 0 2.7 0a1.35 1.35 0 1 0 -2.7 0M275.54 362.8a1.35 1.35 0 1 0 2.7 0a1.35 1.35 0 1 0 -2.7 0M277.32 355.5a1.35 1.35 0 1 0 2.7 0a1.35 1.35 0 1 0 -2.7 0M279.10 356.0a1.35 1.35 0 1 0 2.7 0a1.35 1.35 0 1 0 -2.7 0M280.87 356.5a1.35 1.35 0 1 0 2.7 0a1.35 1.35 0 1 0 -2.7 0M282.65 350.6a1.35 1.35 0 1 0 2.7 0a1.35 1.35 0 1 0 -2.7 0M284.43 355.7a1.35 1.35 0 1 0 2.7 0a1.35 1.35 0 1 0 -2.7 0M286.21 356.0a1.35 1.35 0 1 0 2.7 0a1.35 1.35 0 1 0 -2.7 0M287.98 353.4a1.35 1.35 0 1 0 2.7 0a1.35 1.35 0 1 0 -2.7 0M289.76 351.3a1.35 1.35 0 1 0 2.7 0a1.35 1.35 0 1 0 -2.7 0M291.54 349.4a1.35 1.35 0 1 0 2.7 0a1.35 1.35 0 1 0 -2.7 0M293.31 351.8a1.35 1.35 0 1 0 2.7 0a1.35 1.35 0 1 0 -2.7 0M295.09 352.5a1.35 1.35 0 1 0 2.7 0a1.35 1.35 0 1 0 -2.7 0M296.87 355.4a1.35 1.35 0 1 0 2.7 0a1.35 1.35 0 1 0 -2.7 0M298.65 366.3a1.35 1.35 0 1 0 2.7 0a1.35 1.35 0 1 0 -2.7 0M300.42 355.8a1.35 1.35 0 1 0 2.7 0a1.35 1.35 0 1 0 -2.7 0M302.20 359.2a1.35 1.35 0 1 0 2.7 0a1.35 1.35 0 1 0 -2.7 0M303.98 363.8a1.35 1.35 0 1 0 2.7 0a1.35 1.35 0 1 0 -2.7 0M305.75 358.0a1.35 1.35 0 1 0 2.7 0a1.35 1.35 0 1 0 -2.7 0M307.53 355.2a1.35 1.35 0 1 0 2.7 0a1.35 1.35 0 1 0 -2.7 0M309.31 328.6a1.35 1.35 0 1 0 2.7 0a1.35 1.35 0 1 0 -2.7 0M311.09 317.4a1.35 1.35 0 1 0 2.7 0a1.35 1.35 0 1 0 -2.7 0M312.86 324.3a1.35 1.35 0 1 0 2.7 0a1.35 1.35 0 1 0 -2.7 0M314.64 354.2a1.35 1.35 0 1 0 2.7 0a1.35 1.35 0 1 0 -2.7 0M316.42 342.6a1.35 1.35 0 1 0 2.7 0a1.35 1.35 0 1 0 -2.7 0M318.19 325.3a1.35 1.35 0 1 0 2.7 0a1.35 1.35 0 1 0 -2.7 0M319.97 327.8a1.35 1.35 0 1 0 2.7 0a1.35 1.35 0 1 0 -2.7 0M321.75 194.6a1.35 1.35 0 1 0 2.7 0a1.35 1.35 0 1 0 -2.7 0M323.52 270.8a1.35 1.35 0 1 0 2.7 0a1.35 1.35 0 1 0 -2.7 0M325.30 300.0a1.35 1.35 0 1 0 2.7 0a1.35 1.35 0 1 0 -2.7 0M327.08 310.1a1.35 1.35 0 1 0 2.7 0a1.35 1.35 0 1 0 -2.7 0M328.86 308.1a1.35 1.35 0 1 0 2.7 0a1.35 1.35 0 1 0 -2.7 0M330.63 209.0a1.35 1.35 0 1 0 2.7 0a1.35 1.35 0 1 0 -2.7 0M332.41 284.4a1.35 1.35 0 1 0 2.7 0a1.35 1.35 0 1 0 -2.7 0M334.19 305.1a1.35 1.35 0 1 0 2.7 0a1.35 1.35 0 1 0 -2.7 0M335.96 341.2a1.35 1.35 0 1 0 2.7 0a1.35 1.35 0 1 0 -2.7 0M337.74 355.7a1.35 1.35 0 1 0 2.7 0a1.35 1.35 0 1 0 -2.7 0M339.52 365.3a1.35 1.35 0 1 0 2.7 0a1.35 1.35 0 1 0 -2.7 0M341.30 371.3a1.35 1.35 0 1 0 2.7 0a1.35 1.35 0 1 0 -2.7 0M343.07 370.8a1.35 1.35 0 1 0 2.7 0a1.35 1.35 0 1 0 -2.7 0M344.85 371.8a1.35 1.35 0 1 0 2.7 0a1.35 1.35 0 1 0 -2.7 0M346.63 368.3a1.35 1.35 0 1 0 2.7 0a1.35 1.35 0 1 0 -2.7 0M348.40 364.0a1.35 1.35 0 1 0 2.7 0a1.35 1.35 0 1 0 -2.7 0M350.18 365.8a1.35 1.35 0 1 0 2.7 0a1.35 1.35 0 1 0 -2.7 0M351.96 363.8a1.35 1.35 0 1 0 2.7 0a1.35 1.35 0 1 0 -2.7 0M353.74 359.0a1.35 1.35 0 1 0 2.7 0a1.35 1.35 0 1 0 -2.7 0M355.51 359.2a1.35 1.35 0 1 0 2.7 0a1.35 1.35 0 1 0 -2.7 0M357.29 358.9a1.35 1.35 0 1 0 2.7 0a1.35 1.35 0 1 0 -2.7 0M359.07 358.0a1.35 1.35 0 1 0 2.7 0a1.35 1.35 0 1 0 -2.7 0M360.84 352.9a1.35 1.35 0 1 0 2.7 0a1.35 1.35 0 1 0 -2.7 0M362.62 350.5a1.35 1.35 0 1 0 2.7 0a1.35 1.35 0 1 0 -2.7 0M364.40 350.1a1.35 1.35 0 1 0 2.7 0a1.35 1.35 0 1 0 -2.7 0M366.18 352.5a1.35 1.35 0 1 0 2.7 0a1.35 1.35 0 1 0 -2.7 0M367.95 353.5a1.35 1.35 0 1 0 2.7 0a1.35 1.35 0 1 0 -2.7 0M369.73 355.5a1.35 1.35 0 1 0 2.7 0a1.35 1.35 0 1 0 -2.7 0M371.51 353.0a1.35 1.35 0 1 0 2.7 0a1.35 1.35 0 1 0 -2.7 0M373.28 351.4a1.35 1.35 0 1 0 2.7 0a1.35 1.35 0 1 0 -2.7 0M375.06 355.0a1.35 1.35 0 1 0 2.7 0a1.35 1.35 0 1 0 -2.7 0M376.84 359.0a1.35 1.35 0 1 0 2.7 0a1.35 1.35 0 1 0 -2.7 0M378.62 357.5a1.35 1.35 0 1 0 2.7 0a1.35 1.35 0 1 0 -2.7 0M380.39 364.6a1.35 1.35 0 1 0 2.7 0a1.35 1.35 0 1 0 -2.7 0M382.17 379.2a1.35 1.35 0 1 0 2.7 0a1.35 1.35 0 1 0 -2.7 0M383.95 361.6a1.35 1.35 0 1 0 2.7 0a1.35 1.35 0 1 0 -2.7 0M385.72 351.4a1.35 1.35 0 1 0 2.7 0a1.35 1.35 0 1 0 -2.7 0M387.50 368.1a1.35 1.35 0 1 0 2.7 0a1.35 1.35 0 1 0 -2.7 0M389.28 359.0a1.35 1.35 0 1 0 2.7 0a1.35 1.35 0 1 0 -2.7 0M391.05 377.4a1.35 1.35 0 1 0 2.7 0a1.35 1.35 0 1 0 -2.7 0M392.83 361.5a1.35 1.35 0 1 0 2.7 0a1.35 1.35 0 1 0 -2.7 0M394.61 368.6a1.35 1.35 0 1 0 2.7 0a1.35 1.35 0 1 0 -2.7 0M396.39 426.5a1.35 1.35 0 1 0 2.7 0a1.35 1.35 0 1 0 -2.7 0M398.16 366.3a1.35 1.35 0 1 0 2.7 0a1.35 1.35 0 1 0 -2.7 0M399.94 276.4a1.35 1.35 0 1 0 2.7 0a1.35 1.35 0 1 0 -2.7 0M401.72 373.2a1.35 1.35 0 1 0 2.7 0a1.35 1.35 0 1 0 -2.7 0M403.49 373.4a1.35 1.35 0 1 0 2.7 0a1.35 1.35 0 1 0 -2.7 0M405.27 373.4a1.35 1.35 0 1 0 2.7 0a1.35 1.35 0 1 0 -2.7 0M407.05 353.5a1.35 1.35 0 1 0 2.7 0a1.35 1.35 0 1 0 -2.7 0M408.83 359.2a1.35 1.35 0 1 0 2.7 0a1.35 1.35 0 1 0 -2.7 0M410.60 363.9a1.35 1.35 0 1 0 2.7 0a1.35 1.35 0 1 0 -2.7 0M412.38 345.9a1.35 1.35 0 1 0 2.7 0a1.35 1.35 0 1 0 -2.7 0M414.16 143.9a1.35 1.35 0 1 0 2.7 0a1.35 1.35 0 1 0 -2.7 0M415.93 357.7a1.35 1.35 0 1 0 2.7 0a1.35 1.35 0 1 0 -2.7 0M417.71 325.0a1.35 1.35 0 1 0 2.7 0a1.35 1.35 0 1 0 -2.7 0M419.49 288.3a1.35 1.35 0 1 0 2.7 0a1.35 1.35 0 1 0 -2.7 0M421.27 319.1a1.35 1.35 0 1 0 2.7 0a1.35 1.35 0 1 0 -2.7 0M423.04 318.6a1.35 1.35 0 1 0 2.7 0a1.35 1.35 0 1 0 -2.7 0M424.82 317.6a1.35 1.35 0 1 0 2.7 0a1.35 1.35 0 1 0 -2.7 0M426.60 325.2a1.35 1.35 0 1 0 2.7 0a1.35 1.35 0 1 0 -2.7 0M428.37 354.5a1.35 1.35 0 1 0 2.7 0a1.35 1.35 0 1 0 -2.7 0M430.15 358.6a1.35 1.35 0 1 0 2.7 0a1.35 1.35 0 1 0 -2.7 0M431.93 357.5a1.35 1.35 0 1 0 2.7 0a1.35 1.35 0 1 0 -2.7 0M433.71 348.4a1.35 1.35 0 1 0 2.7 0a1.35 1.35 0 1 0 -2.7 0M435.48 348.4a1.35 1.35 0 1 0 2.7 0a1.35 1.35 0 1 0 -2.7 0M437.26 349.4a1.35 1.35 0 1 0 2.7 0a1.35 1.35 0 1 0 -2.7 0M439.04 349.4a1.35 1.35 0 1 0 2.7 0a1.35 1.35 0 1 0 -2.7 0M440.81 345.9a1.35 1.35 0 1 0 2.7 0a1.35 1.35 0 1 0 -2.7 0M442.59 340.3a1.35 1.35 0 1 0 2.7 0a1.35 1.35 0 1 0 -2.7 0M444.37 348.4a1.35 1.35 0 1 0 2.7 0a1.35 1.35 0 1 0 -2.7 0M446.14 356.5a1.35 1.35 0 1 0 2.7 0a1.35 1.35 0 1 0 -2.7 0M447.92 346.4a1.35 1.35 0 1 0 2.7 0a1.35 1.35 0 1 0 -2.7 0M449.70 350.4a1.35 1.35 0 1 0 2.7 0a1.35 1.35 0 1 0 -2.7 0M451.48 349.4a1.35 1.35 0 1 0 2.7 0a1.35 1.35 0 1 0 -2.7 0M453.25 350.1a1.35 1.35 0 1 0 2.7 0a1.35 1.35 0 1 0 -2.7 0M455.03 349.0a1.35 1.35 0 1 0 2.7 0a1.35 1.35 0 1 0 -2.7 0M456.81 340.0a1.35 1.35 0 1 0 2.7 0a1.35 1.35 0 1 0 -2.7 0M458.58 345.0a1.35 1.35 0 1 0 2.7 0a1.35 1.35 0 1 0 -2.7 0M460.36 350.1a1.35 1.35 0 1 0 2.7 0a1.35 1.35 0 1 0 -2.7 0M462.14 350.0a1.35 1.35 0 1 0 2.7 0a1.35 1.35 0 1 0 -2.7 0M463.92 356.7a1.35 1.35 0 1 0 2.7 0a1.35 1.35 0 1 0 -2.7 0M465.69 354.0a1.35 1.35 0 1 0 2.7 0a1.35 1.35 0 1 0 -2.7 0M467.47 344.8a1.35 1.35 0 1 0 2.7 0a1.35 1.35 0 1 0 -2.7 0M469.25 366.3a1.35 1.35 0 1 0 2.7 0a1.35 1.35 0 1 0 -2.7 0M471.02 364.3a1.35 1.35 0 1 0 2.7 0a1.35 1.35 0 1 0 -2.7 0M472.80 337.9a1.35 1.35 0 1 0 2.7 0a1.35 1.35 0 1 0 -2.7 0M474.58 367.3a1.35 1.35 0 1 0 2.7 0a1.35 1.35 0 1 0 -2.7 0M476.36 355.7a1.35 1.35 0 1 0 2.7 0a1.35 1.35 0 1 0 -2.7 0M478.13 327.8a1.35 1.35 0 1 0 2.7 0a1.35 1.35 0 1 0 -2.7 0M479.91 308.6a1.35 1.35 0 1 0 2.7 0a1.35 1.35 0 1 0 -2.7 0M481.69 360.5a1.35 1.35 0 1 0 2.7 0a1.35 1.35 0 1 0 -2.7 0M483.46 269.3a1.35 1.35 0 1 0 2.7 0a1.35 1.35 0 1 0 -2.7 0M485.24 259.2a1.35 1.35 0 1 0 2.7 0a1.35 1.35 0 1 0 -2.7 0M487.02 286.4a1.35 1.35 0 1 0 2.7 0a1.35 1.35 0 1 0 -2.7 0M488.80 294.5a1.35 1.35 0 1 0 2.7 0a1.35 1.35 0 1 0 -2.7 0M490.57 273.8a1.35 1.35 0 1 0 2.7 0a1.35 1.35 0 1 0 -2.7 0M492.35 277.4a1.35 1.35 0 1 0 2.7 0a1.35 1.35 0 1 0 -2.7 0M494.13 250.1a1.35 1.35 0 1 0 2.7 0a1.35 1.35 0 1 0 -2.7 0M495.90 279.2a1.35 1.35 0 1 0 2.7 0a1.35 1.35 0 1 0 -2.7 0M497.68 307.6a1.35 1.35 0 1 0 2.7 0a1.35 1.35 0 1 0 -2.7 0M499.46 304.3a1.35 1.35 0 1 0 2.7 0a1.35 1.35 0 1 0 -2.7 0M501.23 323.3a1.35 1.35 0 1 0 2.7 0a1.35 1.35 0 1 0 -2.7 0M503.01 339.2a1.35 1.35 0 1 0 2.7 0a1.35 1.35 0 1 0 -2.7 0M504.79 320.0a1.35 1.35 0 1 0 2.7 0a1.35 1.35 0 1 0 -2.7 0M506.57 347.0a1.35 1.35 0 1 0 2.7 0a1.35 1.35 0 1 0 -2.7 0M508.34 342.5a1.35 1.35 0 1 0 2.7 0a1.35 1.35 0 1 0 -2.7 0M510.12 353.7a1.35 1.35 0 1 0 2.7 0a1.35 1.35 0 1 0 -2.7 0M511.90 338.3a1.35 1.35 0 1 0 2.7 0a1.35 1.35 0 1 0 -2.7 0M513.67 358.2a1.35 1.35 0 1 0 2.7 0a1.35 1.35 0 1 0 -2.7 0M515.45 356.7a1.35 1.35 0 1 0 2.7 0a1.35 1.35 0 1 0 -2.7 0M517.23 359.2a1.35 1.35 0 1 0 2.7 0a1.35 1.35 0 1 0 -2.7 0M519.01 369.8a1.35 1.35 0 1 0 2.7 0a1.35 1.35 0 1 0 -2.7 0M520.78 350.6a1.35 1.35 0 1 0 2.7 0a1.35 1.35 0 1 0 -2.7 0M522.56 352.7a1.35 1.35 0 1 0 2.7 0a1.35 1.35 0 1 0 -2.7 0M524.34 353.7a1.35 1.35 0 1 0 2.7 0a1.35 1.35 0 1 0 -2.7 0M526.11 350.1a1.35 1.35 0 1 0 2.7 0a1.35 1.35 0 1 0 -2.7 0M527.89 349.6a1.35 1.35 0 1 0 2.7 0a1.35 1.35 0 1 0 -2.7 0M529.67 359.2a1.35 1.35 0 1 0 2.7 0a1.35 1.35 0 1 0 -2.7 0M531.45 358.4a1.35 1.35 0 1 0 2.7 0a1.35 1.35 0 1 0 -2.7 0M533.22 367.3a1.35 1.35 0 1 0 2.7 0a1.35 1.35 0 1 0 -2.7 0M535.00 368.3a1.35 1.35 0 1 0 2.7 0a1.35 1.35 0 1 0 -2.7 0M536.78 358.0a1.35 1.35 0 1 0 2.7 0a1.35 1.35 0 1 0 -2.7 0M538.55 354.8a1.35 1.35 0 1 0 2.7 0a1.35 1.35 0 1 0 -2.7 0M540.33 348.1a1.35 1.35 0 1 0 2.7 0a1.35 1.35 0 1 0 -2.7 0M542.11 343.0a1.35 1.35 0 1 0 2.7 0a1.35 1.35 0 1 0 -2.7 0M543.89 285.7a1.35 1.35 0 1 0 2.7 0a1.35 1.35 0 1 0 -2.7 0M545.66 354.5a1.35 1.35 0 1 0 2.7 0a1.35 1.35 0 1 0 -2.7 0M547.44 353.0a1.35 1.35 0 1 0 2.7 0a1.35 1.35 0 1 0 -2.7 0M549.22 352.3a1.35 1.35 0 1 0 2.7 0a1.35 1.35 0 1 0 -2.7 0M550.99 353.8a1.35 1.35 0 1 0 2.7 0a1.35 1.35 0 1 0 -2.7 0M552.77 351.0a1.35 1.35 0 1 0 2.7 0a1.35 1.35 0 1 0 -2.7 0M554.55 345.7a1.35 1.35 0 1 0 2.7 0a1.35 1.35 0 1 0 -2.7 0M556.32 347.3a1.35 1.35 0 1 0 2.7 0a1.35 1.35 0 1 0 -2.7 0M558.10 350.2a1.35 1.35 0 1 0 2.7 0a1.35 1.35 0 1 0 -2.7 0M559.88 349.4a1.35 1.35 0 1 0 2.7 0a1.35 1.35 0 1 0 -2.7 0M561.66 343.0a1.35 1.35 0 1 0 2.7 0a1.35 1.35 0 1 0 -2.7 0M563.43 347.3a1.35 1.35 0 1 0 2.7 0a1.35 1.35 0 1 0 -2.7 0M565.21 333.9a1.35 1.35 0 1 0 2.7 0a1.35 1.35 0 1 0 -2.7 0M566.99 286.0a1.35 1.35 0 1 0 2.7 0a1.35 1.35 0 1 0 -2.7 0M568.76 306.7a1.35 1.35 0 1 0 2.7 0a1.35 1.35 0 1 0 -2.7 0M570.54 231.2a1.35 1.35 0 1 0 2.7 0a1.35 1.35 0 1 0 -2.7 0M572.32 236.0a1.35 1.35 0 1 0 2.7 0a1.35 1.35 0 1 0 -2.7 0M574.10 229.6a1.35 1.35 0 1 0 2.7 0a1.35 1.35 0 1 0 -2.7 0M575.87 221.0a1.35 1.35 0 1 0 2.7 0a1.35 1.35 0 1 0 -2.7 0M577.65 234.7a1.35 1.35 0 1 0 2.7 0a1.35 1.35 0 1 0 -2.7 0M579.43 231.7a1.35 1.35 0 1 0 2.7 0a1.35 1.35 0 1 0 -2.7 0M581.20 219.8a1.35 1.35 0 1 0 2.7 0a1.35 1.35 0 1 0 -2.7 0M582.98 210.4a1.35 1.35 0 1 0 2.7 0a1.35 1.35 0 1 0 -2.7 0M584.76 194.1a1.35 1.35 0 1 0 2.7 0a1.35 1.35 0 1 0 -2.7 0M586.54 326.6a1.35 1.35 0 1 0 2.7 0a1.35 1.35 0 1 0 -2.7 0M588.31 305.4a1.35 1.35 0 1 0 2.7 0a1.35 1.35 0 1 0 -2.7 0M590.09 317.5a1.35 1.35 0 1 0 2.7 0a1.35 1.35 0 1 0 -2.7 0M591.87 294.8a1.35 1.35 0 1 0 2.7 0a1.35 1.35 0 1 0 -2.7 0M593.64 316.0a1.35 1.35 0 1 0 2.7 0a1.35 1.35 0 1 0 -2.7 0M595.42 332.9a1.35 1.35 0 1 0 2.7 0a1.35 1.35 0 1 0 -2.7 0M597.20 338.2a1.35 1.35 0 1 0 2.7 0a1.35 1.35 0 1 0 -2.7 0M598.98 357.9a1.35 1.35 0 1 0 2.7 0a1.35 1.35 0 1 0 -2.7 0M600.75 362.9a1.35 1.35 0 1 0 2.7 0a1.35 1.35 0 1 0 -2.7 0M602.53 350.8a1.35 1.35 0 1 0 2.7 0a1.35 1.35 0 1 0 -2.7 0M604.31 367.0a1.35 1.35 0 1 0 2.7 0a1.35 1.35 0 1 0 -2.7 0M606.08 353.3a1.35 1.35 0 1 0 2.7 0a1.35 1.35 0 1 0 -2.7 0M607.86 358.9a1.35 1.35 0 1 0 2.7 0a1.35 1.35 0 1 0 -2.7 0M609.64 360.0a1.35 1.35 0 1 0 2.7 0a1.35 1.35 0 1 0 -2.7 0M611.42 359.4a1.35 1.35 0 1 0 2.7 0a1.35 1.35 0 1 0 -2.7 0M613.19 357.4a1.35 1.35 0 1 0 2.7 0a1.35 1.35 0 1 0 -2.7 0M614.97 363.4a1.35 1.35 0 1 0 2.7 0a1.35 1.35 0 1 0 -2.7 0M616.75 358.4a1.35 1.35 0 1 0 2.7 0a1.35 1.35 0 1 0 -2.7 0M618.52 358.0a1.35 1.35 0 1 0 2.7 0a1.35 1.35 0 1 0 -2.7 0M620.30 360.4a1.35 1.35 0 1 0 2.7 0a1.35 1.35 0 1 0 -2.7 0M622.08 361.5a1.35 1.35 0 1 0 2.7 0a1.35 1.35 0 1 0 -2.7 0" fill="none" stroke="#00ff00" stroke-width="0.72"/>
<polyline points="113.4,365.0 115.2,362.0 117.0,361.0 118.7,362.0 120.5,360.0 122.3,361.0 124.1,357.0 125.8,352.3 127.6,356.0 129.4,350.4 131.2,353.0 132.9,354.7 134.7,352.4 136.5,346.4 138.3,333.8 140.1,318.1 141.8,289.9 143.6,237.9 145.4,260.1 147.2,238.9 148.9,294.9 150.7,284.0 152.5,154.4 154.3,204.9 156.1,203.6 157.8,208.8 159.6,258.3 161.4,242.4 163.2,242.1 164.9,221.8 166.7,234.9 168.5,307.0 170.3,320.6 172.0,344.2 173.8,360.7 175.6,383.6 177.4,387.3 179.2,376.4 180.9,384.3 182.7,391.3 184.5,389.6 186.3,379.5 188.0,370.1 189.8,348.6 191.6,368.6 193.4,363.6 195.2,371.2 196.9,366.3 198.7,362.8 200.5,364.3 202.2,363.3 204.0,360.2 205.8,363.7 207.6,360.1 209.4,360.2 211.1,357.7 212.9,358.3 214.7,357.3 216.5,357.0 218.2,354.5 220.0,353.5 221.8,352.7 223.6,342.4 225.4,346.1 227.1,326.1 228.9,284.9 230.7,321.3 232.5,344.7 234.2,380.3 236.0,350.4 237.8,334.6 239.6,340.2 241.3,342.5 243.1,346.4 244.9,274.7 246.7,312.0 248.5,312.6 250.2,328.9 252.0,332.4 253.8,333.9 255.6,362.2 257.4,358.8 259.1,368.4 260.9,374.6 262.7,389.1 264.4,389.3 266.2,382.0 268.0,365.0 269.8,371.3 271.6,368.4 273.3,371.3 275.1,370.7 276.9,367.0 278.7,354.9 280.4,354.9 282.2,355.5 284.0,353.2 285.8,355.7 287.6,356.7 289.3,353.6 291.1,349.5 292.9,350.7 294.7,352.8 296.4,350.3 298.2,356.1 300.0,373.7 301.8,355.0 303.6,356.7 305.3,363.3 307.1,357.7 308.9,355.2 310.7,328.6 312.4,310.9 314.2,324.3 316.0,352.7 317.8,340.6 319.5,325.3 321.3,325.3 323.1,200.9 324.9,264.0 326.6,301.6 328.4,312.0 330.2,307.6 332.0,206.5 333.8,267.8 335.5,303.9 337.3,344.0 339.1,355.7 340.9,361.4 342.6,366.8 344.4,370.3 346.2,371.3 348.0,367.5 349.8,363.3 351.5,369.8 353.3,363.8 355.1,358.7 356.9,358.7 358.6,358.4 360.4,358.7 362.2,352.7 364.0,350.1 365.8,351.2 367.5,353.2 369.3,352.4 371.1,357.0 372.9,352.4 374.6,337.1" fill="none" stroke="#ff0000" stroke-width="0.38"/>
<polyline points="378.2,335.0" fill="none" stroke="#000000" stroke-width="0.5"/>
<polyline points="381.7,326.2 383.5,319.4" fill="none" stroke="#000000" stroke-width="0.5"/>
<polyline points="394.2,362.1" fill="none" stroke="#000000" stroke-width="0.5"/>
<polyline points="410.2,365.6" fill="none" stroke="#000000" stroke-width="0.5"/>
<polyline points="413.7,351.9 415.5,325.7 417.3,348.6 419.1,325.0 420.8,269.6 422.6,323.0 424.4,322.7 426.2,331.2 427.9,342.9 429.7,358.0 431.5,360.5 433.3,341.1 435.1,353.5 436.8,345.4 438.6,345.4 440.4,353.5 442.2,346.4 443.9,332.5 445.7,349.4 447.5,357.0 449.3,346.4 451.1,350.9 452.8,348.4 454.6,345.6 456.4,350.1 458.2,342.6 459.9,337.7 461.7,346.1 463.5,347.6 465.3,358.7 467.0,355.2 468.8,350.1 470.6,361.2 472.4,363.3 474.1,326.8 475.9,361.2 477.7,351.7 479.5,302.3 481.3,296.1 483.0,325.3 484.8,267.1 486.6,277.9 488.4,286.4 490.1,326.5 491.9,287.4 493.7,291.0 495.5,265.7 497.2,285.9 499.0,313.4 500.8,304.3 502.6,331.8 504.4,342.3 506.1,320.0 507.9,350.6 509.7,346.4 511.5,359.2 513.2,352.7 515.0,362.0 516.8,356.2 518.6,360.2 520.4,362.8 522.1,351.2 523.9,355.2 525.7,353.2 527.5,350.6 529.2,355.7 531.0,359.7 532.8,359.7 534.6,373.2 536.4,375.4 538.1,357.4 539.9,356.8 541.7,348.1 543.5,343.0 545.2,289.0 547.0,354.1 548.8,352.3 550.6,351.3 552.3,352.3 554.1,351.3 555.9,350.3 557.7,347.8 559.5,349.8 561.2,349.8 563.0,343.0 564.8,346.2 566.6,341.0 568.3,295.8 570.1,298.5 571.9,212.2 573.7,226.3 575.5,247.1 577.2,258.2 579.0,234.7 580.8,231.7 582.5,193.5 584.3,210.4 586.1,171.6 587.9,330.6 589.7,319.3 591.4,327.9 593.2,316.5 595.0,320.6 596.8,336.0 598.5,346.8 600.3,360.9 602.1,362.4 603.9,356.8 605.7,360.9 607.4,356.8 609.2,358.9 611.0,361.4 612.8,361.9 614.5,357.4 616.3,364.4 618.1,358.4 619.9,358.9 621.6,359.9 623.4,360.2" fill="none" stroke="#000000" stroke-width="0.5"/>
<path d="M112.05 365.0a1.35 1.35 0 1 0 2.7 0a1.35 1.35 0 1 0 -2.7 0M113.83 362.0a1.35 1.35 0 1 0 2.7 0a1.35 1.35 0 1 0 -2.7 0M115.60 361.0a1.35 1.35 0 1 0 2.7 0a1.35 1.35 0 1 0 -2.7 0M117.38 362.0a1.35 1.35 0 1 0 2.7 0a1.35 1.35 0 1 0 -2.7 0M119.16 360.0a1.35 1.35 0 1 0 2.7 0a1.35 1.35 0 1 0 -2.7 0M120.94 361.0a1.35 1.35 0 1 0 2.7 0a1.35 1.35 0 1 0 -2.7 0M122.71 357.0a1.35 1.35 0 1 0 2.7 0a1.35 1.35 0 1 0 -2.7 0M124.49 352.3a1.35 1.35 0 1 0 2.7 0a1.35 1.35 0 1 0 -2.7 0M126.27 356.0a1.35 1.35 0 1 0 2.7 0a1.35 1.35 0 1 0 -2.7 0M128.04 350.4a1.35 1.35 0 1 0 2.7 0a1.35 1.35 0 1 0 -2.7 0M129.82 353.0a1.35 1.35 0 1 0 2.7 0a1.35 1.35 0 1 0 -2.7 0M131.60 354.7a1.35 1.35 0 1 0 2.7 0a1.35 1.35 0 1 0 -2.7 0M133.38 352.4a1.35 1.35 0 1 0 2.7 0a1.35 1.35 0 1 0 -2.7 0M135.15 346.4a1.35 1.35 0 1 0 2.7 0a1.35 1.35 0 1 0 -2.7 0M136.93 333.8a1.35 1.35 0 1 0 2.7 0a1.35 1.35 0 1 0 -2.7 0M138.71 318.1a1.35 1.35 0 1 0 2.7 0a1.35 1.35 0 1 0 -2.7 0M140.48 289.9a1.35 1.35 0 1 0 2.7 0a1.35 1.35 0 1 0 -2.7 0M142.26 237.9a1.35 1.35 0 1 0 2.7 0a1.35 1.35 0 1 0 -2.7 0M144.04 260.1a1.35 1.35 0 1 0 2.7 0a1.35 1.35 0 1 0 -2.7 0M145.81 238.9a1.35 1.35 0 1 0 2.7 0a1.35 1.35 0 1 0 -2.7 0M147.59 294.9a1.35 1.35 0 1 0 2.7 0a1.35 1.35 0 1 0 -2.7 0M149.37 284.0a1.35 1.35 0 1 0 2.7 0a1.35 1.35 0 1 0 -2.7 0M151.15 154.4a1.35 1.35 0 1 0 2.7 0a1.35 1.35 0 1 0 -2.7 0M152.92 204.9a1.35 1.35 0 1 0 2.7 0a1.35 1.35 0 1 0 -2.7 0M154.70 203.6a1.35 1.35 0 1 0 2.7 0a1.35 1.35 0 1 0 -2.7 0M156.48 208.8a1.35 1.35 0 1 0 2.7 0a1.35 1.35 0 1 0 -2.7 0M158.25 258.3a1.35 1.35 0 1 0 2.7 0a1.35 1.35 0 1 0 -2.7 0M160.03 242.4a1.35 1.35 0 1 0 2.7 0a1.35 1.35 0 1 0 -2.7 0M161.81 242.1a1.35 1.35 0 1 0 2.7 0a1.35 1.35 0 1 0 -2.7 0M163.59 221.8a1.35 1.35 0 1 0 2.7 0a1.35 1.35 0 1 0 -2.7 0M165.36 234.9a1.35 1.35 0 1 0 2.7 0a1.35 1.35 0 1 0 -2.7 0M167.14 307.0a1.35 1.35 0 1 0 2.7 0a1.35 1.35 0 1 0 -2.7 0M168.92 320.6a1.35 1.35 0 1 0 2.7 0a1.35 1.35 0 1 0 -2.7 0M170.69 344.2a1.35 1.35 0 1 0 2.7 0a1.35 1.35 0 1 0 -2.7 0M172.47 360.7a1.35 1.35 0 1 0 2.7 0a1.35 1.35 0 1 0 -2.7 0M174.25 383.6a1.35 1.35 0 1 0 2.7 0a1.35 1.35 0 1 0 -2.7 0M176.03 387.3a1.35 1.35 0 1 0 2.7 0a1.35 1.35 0 1 0 -2.7 0M177.80 376.4a1.35 1.35 0 1 0 2.7 0a1.35 1.35 0 1 0 -2.7 0M179.58 384.3a1.35 1.35 0 1 0 2.7 0a1.35 1.35 0 1 0 -2.7 0M181.36 391.3a1.35 1.35 0 1 0 2.7 0a1.35 1.35 0 1 0 -2.7 0M183.13 389.6a1.35 1.35 0 1 0 2.7 0a1.35 1.35 0 1 0 -2.7 0M184.91 379.5a1.35 1.35 0 1 0 2.7 0a1.35 1.35 0 1 0 -2.7 0M186.69 370.1a1.35 1.35 0 1 0 2.7 0a1.35 1.35 0 1 0 -2.7 0M188.47 348.6a1.35 1.35 0 1 0 2.7 0a1.35 1.35 0 1 0 -2.7 0M190.24 368.6a1.35 1.35 0 1 0 2.7 0a1.35 1.35 0 1 0 -2.7 0M192.02 363.6a1.35 1.35 0 1 0 2.7 0a1.35 1.35 0 1 0 -2.7 0M193.80 371.2a1.35 1.35 0 1 0 2.7 0a1.35 1.35 0 1 0 -2.7 0M195.57 366.3a1.35 1.35 0 1 0 2.7 0a1.35 1.35 0 1 0 -2.7 0M197.35 362.8a1.35 1.35 0 1 0 2.7 0a1.35 1.35 0 1 0 -2.7 0M199.13 364.3a1.35 1.35 0 1 0 2.7 0a1.35 1.35 0 1 0 -2.7 0M200.90 363.3a1.35 1.35 0 1 0 2.7 0a1.35 1.35 0 1 0 -2.7 0M202.68 360.2a1.35 1.35 0 1 0 2.7 0a1.35 1.35 0 1 0 -2.7 0M204.46 363.7a1.35 1.35 0 1 0 2.7 0a1.35 1.35 0 1 0 -2.7 0M206.24 360.1a1.35 1.35 0 1 0 2.7 0a1.35 1.35 0 1 0 -2.7 0M208.01 360.2a1.35 1.35 0 1 0 2.7 0a1.35 1.35 0 1 0 -2.7 0M209.79 357.7a1.35 1.35 0 1 0 2.7 0a1.35 1.35 0 1 0 -2.7 0M211.57 358.3a1.35 1.35 0 1 0 2.7 0a1.35 1.35 0 1 0 -2.7 0M213.34 357.3a1.35 1.35 0 1 0 2.7 0a1.35 1.35 0 1 0 -2.7 0M215.12 357.0a1.35 1.35 0 1 0 2.7 0a1.35 1.35 0 1 0 -2.7 0M216.90 354.5a1.35 1.35 0 1 0 2.7 0a1.35 1.35 0 1 0 -2.7 0M218.68 353.5a1.35 1.35 0 1 0 2.7 0a1.35 1.35 0 1 0 -2.7 0M220.45 352.7a1.35 1.35 0 1 0 2.7 0a1.35 1.35 0 1 0 -2.7 0M222.23 342.4a1.35 1.35 0 1 0 2.7 0a1.35 1.35 0 1 0 -2.7 0M224.01 346.1a1.35 1.35 0 1 0 2.7 0a1.35 1.35 0 1 0 -2.7 0M225.78 326.1a1.35 1.35 0 1 0 2.7 0a1.35 1.35 0 1 0 -2.7 0M227.56 284.9a1.35 1.35 0 1 0 2.7 0a1.35 1.35 0 1 0 -2.7 0M229.34 321.3a1.35 1.35 0 1 0 2.7 0a1.35 1.35 0 1 0 -2.7 0M231.12 344.7a1.35 1.35 0 1 0 2.7 0a1.35 1.35 0 1 0 -2.7 0M232.89 380.3a1.35 1.35 0 1 0 2.7 0a1.35 1.35 0 1 0 -2.7 0M234.67 350.4a1.35 1.35 0 1 0 2.7 0a1.35 1.35 0 1 0 -2.7 0M236.45 334.6a1.35 1.35 0 1 0 2.7 0a1.35 1.35 0 1 0 -2.7 0M238.22 340.2a1.35 1.35 0 1 0 2.7 0a1.35 1.35 0 1 0 -2.7 0M240.00 342.5a1.35 1.35 0 1 0 2.7 0a1.35 1.35 0 1 0 -2.7 0M241.78 346.4a1.35 1.35 0 1 0 2.7 0a1.35 1.35 0 1 0 -2.7 0M243.56 274.7a1.35 1.35 0 1 0 2.7 0a1.35 1.35 0 1 0 -2.7 0M245.33 312.0a1.35 1.35 0 1 0 2.7 0a1.35 1.35 0 1 0 -2.7 0M247.11 312.6a1.35 1.35 0 1 0 2.7 0a1.35 1.35 0 1 0 -2.7 0M248.89 328.9a1.35 1.35 0 1 0 2.7 0a1.35 1.35 0 1 0 -2.7 0M250.66 332.4a1.35 1.35 0 1 0 2.7 0a1.35 1.35 0 1 0 -2.7 0M252.44 333.9a1.35 1.35 0 1 0 2.7 0a1.35 1.35 0 1 0 -2.7 0M254.22 362.2a1.35 1.35 0 1 0 2.7 0a1.35 1.35 0 1 0 -2.7 0M256.00 358.8a1.35 1.35 0 1 0 2.7 0a1.35 1.35 0 1 0 -2.7 0M257.77 368.4a1.35 1.35 0 1 0 2.7 0a1.35 1.35 0 1 0 -2.7 0M259.55 374.6a1.35 1.35 0 1 0 2.7 0a1.35 1.35 0 1 0 -2.7 0M261.33 389.1a1.35 1.35 0 1 0 2.7 0a1.35 1.35 0 1 0 -2.7 0M263.10 389.3a1.35 1.35 0 1 0 2.7 0a1.35 1.35 0 1 0 -2.7 0M264.88 382.0a1.35 1.35 0 1 0 2.7 0a1.35 1.35 0 1 0 -2.7 0M266.66 365.0a1.35 1.35 0 1 0 2.7 0a1.35 1.35 0 1 0 -2.7 0M268.43 371.3a1.35 1.35 0 1 0 2.7 0a1.35 1.35 0 1 0 -2.7 0M270.21 368.4a1.35 1.35 0 1 0 2.7 0a1.35 1.35 0 1 0 -2.7 0M271.99 371.3a1.35 1.35 0 1 0 2.7 0a1.35 1.35 0 1 0 -2.7 0M273.77 370.7a1.35 1.35 0 1 0 2.7 0a1.35 1.35 0 1 0 -2.7 0M275.54 367.0a1.35 1.35 0 1 0 2.7 0a1.35 1.35 0 1 0 -2.7 0M277.32 354.9a1.35 1.35 0 1 0 2.7 0a1.35 1.35 0 1 0 -2.7 0M279.10 354.9a1.35 1.35 0 1 0 2.7 0a1.35 1.35 0 1 0 -2.7 0M280.87 355.5a1.35 1.35 0 1 0 2.7 0a1.35 1.35 0 1 0 -2.7 0M282.65 353.2a1.35 1.35 0 1 0 2.7 0a1.35 1.35 0 1 0 -2.7 0M284.43 355.7a1.35 1.35 0 1 0 2.7 0a1.35 1.35 0 1 0 -2.7 0M286.21 356.7a1.35 1.35 0 1 0 2.7 0a1.35 1.35 0 1 0 -2.7 0M287.98 353.6a1.35 1.35 0 1 0 2.7 0a1.35 1.35 0 1 0 -2.7 0M289.76 349.5a1.35 1.35 0 1 0 2.7 0a1.35 1.35 0 1 0 -2.7 0M291.54 350.7a1.35 1.35 0 1 0 2.7 0a1.35 1.35 0 1 0 -2.7 0M293.31 352.8a1.35 1.35 0 1 0 2.7 0a1.35 1.35 0 1 0 -2.7 0M295.09 350.3a1.35 1.35 0 1 0 2.7 0a1.35 1.35 0 1 0 -2.7 0M296.87 356.1a1.35 1.35 0 1 0 2.7 0a1.35 1.35 0 1 0 -2.7 0M298.65 373.7a1.35 1.35 0 1 0 2.7 0a1.35 1.35 0 1 0 -2.7 0M300.42 355.0a1.35 1.35 0 1 0 2.7 0a1.35 1.35 0 1 0 -2.7 0M302.20 356.7a1.35 1.35 0 1 0 2.7 0a1.35 1.35 0 1 0 -2.7 0M303.98 363.3a1.35 1.35 0 1 0 2.7 0a1.35 1.35 0 1 0 -2.7 0M305.75 357.7a1.35 1.35 0 1 0 2.7 0a1.35 1.35 0 1 0 -2.7 0M307.53 355.2a1.35 1.35 0 1 0 2.7 0a1.35 1.35 0 1 0 -2.7 0M309.31 328.6a1.35 1.35 0 1 0 2.7 0a1.35 1.35 0 1 0 -2.7 0M311.09 310.9a1.35 1.35 0 1 0 2.7 0a1.35 1.35 0 1 0 -2.7 0M312.86 324.3a1.35 1.35 0 1 0 2.7 0a1.35 1.35 0 1 0 -2.7 0M314.64 352.7a1.35 1.35 0 1 0 2.7 0a1.35 1.35 0 1 0 -2.7 0M316.42 340.6a1.35 1.35 0 1 0 2.7 0a1.35 1.35 0 1 0 -2.7 0M318.19 325.3a1.35 1.35 0 1 0 2.7 0a1.35 1.35 0 1 0 -2.7 0M319.97 325.3a1.35 1.35 0 1 0 2.7 0a1.35 1.35 0 1 0 -2.7 0M321.75 200.9a1.35 1.35 0 1 0 2.7 0a1.35 1.35 0 1 0 -2.7 0M323.52 264.0a1.35 1.35 0 1 0 2.7 0a1.35 1.35 0 1 0 -2.7 0M325.30 301.6a1.35 1.35 0 1 0 2.7 0a1.35 1.35 0 1 0 -2.7 0M327.08 312.0a1.35 1.35 0 1 0 2.7 0a1.35 1.35 0 1 0 -2.7 0M328.86 307.6a1.35 1.35 0 1 0 2.7 0a1.35 1.35 0 1 0 -2.7 0M330.63 206.5a1.35 1.35 0 1 0 2.7 0a1.35 1.35 0 1 0 -2.7 0M332.41 267.8a1.35 1.35 0 1 0 2.7 0a1.35 1.35 0 1 0 -2.7 0M334.19 303.9a1.35 1.35 0 1 0 2.7 0a1.35 1.35 0 1 0 -2.7 0M335.96 344.0a1.35 1.35 0 1 0 2.7 0a1.35 1.35 0 1 0 -2.7 0M337.74 355.7a1.35 1.35 0 1 0 2.7 0a1.35 1.35 0 1 0 -2.7 0M339.52 361.4a1.35 1.35 0 1 0 2.7 0a1.35 1.35 0 1 0 -2.7 0M341.30 366.8a1.35 1.35 0 1 0 2.7 0a1.35 1.35 0 1 0 -2.7 0M343.07 370.3a1.35 1.35 0 1 0 2.7 0a1.35 1.35 0 1 0 -2.7 0M344.85 371.3a1.35 1.35 0 1 0 2.7 0a1.35 1.35 0 1 0 -2.7 0M346.63 367.5a1.35 1.35 0 1 0 2.7 0a1.35 1.35 0 1 0 -2.7 0M348.40 363.3a1.35 1.35 0 1 0 2.7 0a1.35 1.35 0 1 0 -2.7 0M350.18 369.8a1.35 1.35 0 1 0 2.7 0a1.35 1.35 0 1 0 -2.7 0M351.96 363.8a1.35 1.35 0 1 0 2.7 0a1.35 1.35 0 1 0 -2.7 0M353.74 358.7a1.35 1.35 0 1 0 2.7 0a1.35 1.35 0 1 0 -2.7 0M355.51 358.7a1.35 1.35 0 1 0 2.7 0a1.35 1.35 0 1 0 -2.7 0M357.29 358.4a1.35 1.35 0 1 0 2.7 0a1.35 1.35 0 1 0 -2.7 0M359.07 358.7a1.35 1.35 0 1 0 2.7 0a1.35 1.35 0 1 0 -2.7 0M360.84 352.7a1.35 1.35 0 1 0 2.7 0a1.35 1.35 0 1 0 -2.7 0M362.62 350.1a1.35 1.35 0 1 0 2.7 0a1.35 1.35 0 1 0 -2.7 0M364.40 351.2a1.35 1.35 0 1 0 2.7 0a1.35 1.35 0 1 0 -2.7 0M366.18 353.2a1.35 1.35 0 1 0 2.7 0a1.35 1.35 0 1 0 -2.7 0M367.95 352.4a1.35 1.35 0 1 0 2.7 0a1.35 1.35 0 1 0 -2.7 0M369.73 357.0a1.35 1.35 0 1 0 2.7 0a1.35 1.35 0 1 0 -2.7 0M371.51 352.4a1.35 1.35 0 1 0 2.7 0a1.35 1.35 0 1 0 -2.7 0M373.28 337.1a1.35 1.35 0 1 0 2.7 0a1.35 1.35 0 1 0 -2.7 0M376.84 335.0a1.35 1.35 0 1 0 2.7 0a1.35 1.35 0 1 0 -2.7 0M380.39 326.2a1.35 1.35 0 1 0 2.7 0a1.35 1.35 0 1 0 -2.7 0M382.17 319.4a1.35 1.35 0 1 0 2.7 0a1.35 1.35 0 1 0 -2.7 0M392.83 362.1a1.35 1.35 0 1 0 2.7 0a1.35 1.35 0 1 0 -2.7 0M408.83 365.6a1.35 1.35 0 1 0 2.7 0a1.35 1.35 0 1 0 -2.7 0M412.38 351.9a1.35 1.35 0 1 0 2.7 0a1.35 1.35 0 1 0 -2.7 0M414.16 325.7a1.35 1.35 0 1 0 2.7 0a1.35 1.35 0 1 0 -2.7 0M415.93 348.6a1.35 1.35 0 1 0 2.7 0a1.35 1.35 0 1 0 -2.7 0M417.71 325.0a1.35 1.35 0 1 0 2.7 0a1.35 1.35 0 1 0 -2.7 0M419.49 269.6a1.35 1.35 0 1 0 2.7 0a1.35 1.35 0 1 0 -2.7 0M421.27 323.0a1.35 1.35 0 1 0 2.7 0a1.35 1.35 0 1 0 -2.7 0M423.04 322.7a1.35 1.35 0 1 0 2.7 0a1.35 1.35 0 1 0 -2.7 0M424.82 331.2a1.35 1.35 0 1 0 2.7 0a1.35 1.35 0 1 0 -2.7 0M426.60 342.9a1.35 1.35 0 1 0 2.7 0a1.35 1.35 0 1 0 -2.7 0M428.37 358.0a1.35 1.35 0 1 0 2.7 0a1.35 1.35 0 1 0 -2.7 0M430.15 360.5a1.35 1.35 0 1 0 2.7 0a1.35 1.35 0 1 0 -2.7 0M431.93 341.1a1.35 1.35 0 1 0 2.7 0a1.35 1.35 0 1 0 -2.7 0M433.71 353.5a1.35 1.35 0 1 0 2.7 0a1.35 1.35 0 1 0 -2.7 0M435.48 345.4a1.35 1.35 0 1 0 2.7 0a1.35 1.35 0 1 0 -2.7 0M437.26 345.4a1.35 1.35 0 1 0 2.7 0a1.35 1.35 0 1 0 -2.7 0M439.04 353.5a1.35 1.35 0 1 0 2.7 0a1.35 1.35 0 1 0 -2.7 0M440.81 346.4a1.35 1.35 0 1 0 2.7 0a1.35 1.35 0 1 0 -2.7 0M442.59 332.5a1.35 1.35 0 1 0 2.7 0a1.35 1.35 0 1 0 -2.7 0M444.37 349.4a1.35 1.35 0 1 0 2.7 0a1.35 1.35 0 1 0 -2.7 0M446.14 357.0a1.35 1.35 0 1 0 2.7 0a1.35 1.35 0 1 0 -2.7 0M447.92 346.4a1.35 1.35 0 1 0 2.7 0a1.35 1.35 0 1 0 -2.7 0M449.70 350.9a1.35 1.35 0 1 0 2.7 0a1.35 1.35 0 1 0 -2.7 0M451.48 348.4a1.35 1.35 0 1 0 2.7 0a1.35 1.35 0 1 0 -2.7 0M453.25 345.6a1.35 1.35 0 1 0 2.7 0a1.35 1.35 0 1 0 -2.7 0M455.03 350.1a1.35 1.35 0 1 0 2.7 0a1.35 1.35 0 1 0 -2.7 0M456.81 342.6a1.35 1.35 0 1 0 2.7 0a1.35 1.35 0 1 0 -2.7 0M458.58 337.7a1.35 1.35 0 1 0 2.7 0a1.35 1.35 0 1 0 -2.7 0M460.36 346.1a1.35 1.35 0 1 0 2.7 0a1.35 1.35 0 1 0 -2.7 0M462.14 347.6a1.35 1.35 0 1 0 2.7 0a1.35 1.35 0 1 0 -2.7 0M463.92 358.7a1.35 1.35 0 1 0 2.7 0a1.35 1.35 0 1 0 -2.7 0M465.69 355.2a1.35 1.35 0 1 0 2.7 0a1.35 1.35 0 1 0 -2.7 0M467.47 350.1a1.35 1.35 0 1 0 2.7 0a1.35 1.35 0 1 0 -2.7 0M469.25 361.2a1.35 1.35 0 1 0 2.7 0a1.35 1.35 0 1 0 -2.7 0M471.02 363.3a1.35 1.35 0 1 0 2.7 0a1.35 1.35 0 1 0 -2.7 0M472.80 326.8a1.35 1.35 0 1 0 2.7 0a1.35 1.35 0 1 0 -2.7 0M474.58 361.2a1.35 1.35 0 1 0 2.7 0a1.35 1.35 0 1 0 -2.7 0M476.36 351.7a1.35 1.35 0 1 0 2.7 0a1.35 1.35 0 1 0 -2.7 0M478.13 302.3a1.35 1.35 0 1 0 2.7 0a1.35 1.35 0 1 0 -2.7 0M479.91 296.1a1.35 1.35 0 1 0 2.7 0a1.35 1.35 0 1 0 -2.7 0M481.69 325.3a1.35 1.35 0 1 0 2.7 0a1.35 1.35 0 1 0 -2.7 0M483.46 267.1a1.35 1.35 0 1 0 2.7 0a1.35 1.35 0 1 0 -2.7 0M485.24 277.9a1.35 1.35 0 1 0 2.7 0a1.35 1.35 0 1 0 -2.7 0M487.02 286.4a1.35 1.35 0 1 0 2.7 0a1.35 1.35 0 1 0 -2.7 0M488.80 326.5a1.35 1.35 0 1 0 2.7 0a1.35 1.35 0 1 0 -2.7 0M490.57 287.4a1.35 1.35 0 1 0 2.7 0a1.35 1.35 0 1 0 -2.7 0M492.35 291.0a1.35 1.35 0 1 0 2.7 0a1.35 1.35 0 1 0 -2.7 0M494.13 265.7a1.35 1.35 0 1 0 2.7 0a1.35 1.35 0 1 0 -2.7 0M495.90 285.9a1.35 1.35 0 1 0 2.7 0a1.35 1.35 0 1 0 -2.7 0M497.68 313.4a1.35 1.35 0 1 0 2.7 0a1.35 1.35 0 1 0 -2.7 0M499.46 304.3a1.35 1.35 0 1 0 2.7 0a1.35 1.35 0 1 0 -2.7 0M501.23 331.8a1.35 1.35 0 1 0 2.7 0a1.35 1.35 0 1 0 -2.7 0M503.01 342.3a1.35 1.35 0 1 0 2.7 0a1.35 1.35 0 1 0 -2.7 0M504.79 320.0a1.35 1.35 0 1 0 2.7 0a1.35 1.35 0 1 0 -2.7 0M506.57 350.6a1.35 1.35 0 1 0 2.7 0a1.35 1.35 0 1 0 -2.7 0M508.34 346.4a1.35 1.35 0 1 0 2.7 0a1.35 1.35 0 1 0 -2.7 0M510.12 359.2a1.35 1.35 0 1 0 2.7 0a1.35 1.35 0 1 0 -2.7 0M511.90 352.7a1.35 1.35 0 1 0 2.7 0a1.35 1.35 0 1 0 -2.7 0M513.67 362.0a1.35 1.35 0 1 0 2.7 0a1.35 1.35 0 1 0 -2.7 0M515.45 356.2a1.35 1.35 0 1 0 2.7 0a1.35 1.35 0 1 0 -2.7 0M517.23 360.2a1.35 1.35 0 1 0 2.7 0a1.35 1.35 0 1 0 -2.7 0M519.01 362.8a1.35 1.35 0 1 0 2.7 0a1.35 1.35 0 1 0 -2.7 0M520.78 351.2a1.35 1.35 0 1 0 2.7 0a1.35 1.35 0 1 0 -2.7 0M522.56 355.2a1.35 1.35 0 1 0 2.7 0a1.35 1.35 0 1 0 -2.7 0M524.34 353.2a1.35 1.35 0 1 0 2.7 0a1.35 1.35 0 1 0 -2.7 0M526.11 350.6a1.35 1.35 0 1 0 2.7 0a1.35 1.35 0 1 0 -2.7 0M527.89 355.7a1.35 1.35 0 1 0 2.7 0a1.35 1.35 0 1 0 -2.7 0M529.67 359.7a1.35 1.35 0 1 0 2.7 0a1.35 1.35 0 1 0 -2.7 0M531.45 359.7a1.35 1.35 0 1 0 2.7 0a1.35 1.35 0 1 0 -2.7 0M533.22 373.2a1.35 1.35 0 1 0 2.7 0a1.35 1.35 0 1 0 -2.7 0M535.00 375.4a1.35 1.35 0 1 0 2.7 0a1.35 1.35 0 1 0 -2.7 0M536.78 357.4a1.35 1.35 0 1 0 2.7 0a1.35 1.35 0 1 0 -2.7 0M538.55 356.8a1.35 1.35 0 1 0 2.7 0a1.35 1.35 0 1 0 -2.7 0M540.33 348.1a1.35 1.35 0 1 0 2.7 0a1.35 1.35 0 1 0 -2.7 0M542.11 343.0a1.35 1.35 0 1 0 2.7 0a1.35 1.35 0 1 0 -2.7 0M543.89 289.0a1.35 1.35 0 1 0 2.7 0a1.35 1.35 0 1 0 -2.7 0M545.66 354.1a1.35 1.35 0 1 0 2.7 0a1.35 1.35 0 1 0 -2.7 0M547.44 352.3a1.35 1.35 0 1 0 2.7 0a1.35 1.35 0 1 0 -2.7 0M549.22 351.3a1.35 1.35 0 1 0 2.7 0a1.35 1.35 0 1 0 -2.7 0M550.99 352.3a1.35 1.35 0 1 0 2.7 0a1.35 1.35 0 1 0 -2.7 0M552.77 351.3a1.35 1.35 0 1 0 2.7 0a1.35 1.35 0 1 0 -2.7 0M554.55 350.3a1.35 1.35 0 1 0 2.7 0a1.35 1.35 0 1 0 -2.7 0M556.32 347.8a1.35 1.35 0 1 0 2.7 0a1.35 1.35 0 1 0 -2.7 0M558.10 349.8a1.35 1.35 0 1 0 2.7 0a1.35 1.35 0 1 0 -2.7 0M559.88 349.8a1.35 1.35 0 1 0 2.7 0a1.35 1.35 0 1 0 -2.7 0M561.66 343.0a1.35 1.35 0 1 0 2.7 0a1.35 1.35 0 1 0 -2.7 0M563.43 346.2a1.35 1.35 0 1 0 2.7 0a1.35 1.35 0 1 0 -2.7 0M565.21 341.0a1.35 1.35 0 1 0 2.7 0a1.35 1.35 0 1 0 -2.7 0M566.99 295.8a1.35 1.35 0 1 0 2.7 0a1.35 1.35 0 1 0 -2.7 0M568.76 298.5a1.35 1.35 0 1 0 2.7 0a1.35 1.35 0 1 0 -2.7 0M570.54 212.2a1.35 1.35 0 1 0 2.7 0a1.35 1.35 0 1 0 -2.7 0M572.32 226.3a1.35 1.35 0 1 0 2.7 0a1.35 1.35 0 1 0 -2.7 0M574.10 247.1a1.35 1.35 0 1 0 2.7 0a1.35 1.35 0 1 0 -2.7 0M575.87 258.2a1.35 1.35 0 1 0 2.7 0a1.35 1.35 0 1 0 -2.7 0M577.65 234.7a1.35 1.35 0 1 0 2.7 0a1.35 1.35 0 1 0 -2.7 0M579.43 231.7a1.35 1.35 0 1 0 2.7 0a1.35 1.35 0 1 0 -2.7 0M581.20 193.5a1.35 1.35 0 1 0 2.7 0a1.35 1.35 0 1 0 -2.7 0M582.98 210.4a1.35 1.35 0 1 0 2.7 0a1.35 1.35 0 1 0 -2.7 0M584.76 171.6a1.35 1.35 0 1 0 2.7 0a1.35 1.35 0 1 0 -2.7 0M586.54 330.6a1.35 1.35 0 1 0 2.7 0a1.35 1.35 0 1 0 -2.7 0M588.31 319.3a1.35 1.35 0 1 0 2.7 0a1.35 1.35 0 1 0 -2.7 0M590.09 327.9a1.35 1.35 0 1 0 2.7 0a1.35 1.35 0 1 0 -2.7 0M591.87 316.5a1.35 1.35 0 1 0 2.7 0a1.35 1.35 0 1 0 -2.7 0M593.64 320.6a1.35 1.35 0 1 0 2.7 0a1.35 1.35 0 1 0 -2.7 0M595.42 336.0a1.35 1.35 0 1 0 2.7 0a1.35 1.35 0 1 0 -2.7 0M597.20 346.8a1.35 1.35 0 1 0 2.7 0a1.35 1.35 0 1 0 -2.7 0M598.98 360.9a1.35 1.35 0 1 0 2.7 0a1.35 1.35 0 1 0 -2.7 0M600.75 362.4a1.35 1.35 0 1 0 2.7 0a1.35 1.35 0 1 0 -2.7 0M602.53 356.8a1.35 1.35 0 1 0 2.7 0a1.35 1.35 0 1 0 -2.7 0M604.31 360.9a1.35 1.35 0 1 0 2.7 0a1.35 1.35 0 1 0 -2.7 0M606.08 356.8a1.35 1.35 0 1 0 2.7 0a1.35 1.35 0 1 0 -2.7 0M607.86 358.9a1.35 1.35 0 1 0 2.7 0a1.35 1.35 0 1 0 -2.7 0M609.64 361.4a1.35 1.35 0 1 0 2.7 0a1.35 1.35 0 1 0 -2.7 0M611.42 361.9a1.35 1.35 0 1 0 2.7 0a1.35 1.35 0 1 0 -2.7 0M613.19 357.4a1.35 1.35 0 1 0 2.7 0a1.35 1.35 0 1 0 -2.7 0M614.97 364.4a1.35 1.35 0 1 0 2.7 0a1.35 1.35 0 1 0 -2.7 0M616.75 358.4a1.35 1.35 0 1 0 2.7 0a1.35 1.35 0 1 0 -2.7 0M618.52 358.9a1.35 1.35 0 1 0 2.7 0a1.35 1.35 0 1 0 -2.7 0M620.30 359.9a1.35 1.35 0 1 0 2.7 0a1.35 1.35 0 1 0 -2.7 0M622.08 360.2a1.35 1.35 0 1 0 2.7 0a1.35 1.35 0 1 0 -2.7 0" fill="none" stroke="#ff0000" stroke-width="0.72"/>
<rect x="113.4" y="84.75" width="510.05000000000007" height="396.74999999999994" fill="none" stroke="#000" stroke-width="1.3"/>
<path d="M196.5 84.6 v-6.3 M196.5 481.4 v6.3 M282.5 84.6 v-6.3 M282.5 481.4 v6.3 M367.5 84.6 v-6.3 M367.5 481.4 v6.3 M452.5 84.6 v-6.3 M452.5 481.4 v6.3 M538.5 84.6 v-6.3 M538.5 481.4 v6.3 M113.4 84.5 h-6.3 M623.45 84.5 h6.3 M113.4 217.5 h-6.3 M623.45 217.5 h6.3 M113.4 349.5 h-6.3 M623.45 349.5 h6.3 M113.4 481.5 h-6.3 M623.45 481.5 h6.3" stroke="#000" stroke-width="0.8" fill="none"/>
<path d="M132.5 84.6 v-3.2 M132.5 481.4 v3.2 M154.5 84.6 v-3.2 M154.5 481.4 v3.2 M175.5 84.6 v-3.2 M175.5 481.4 v3.2 M218.5 84.6 v-3.2 M218.5 481.4 v3.2 M239.5 84.6 v-3.2 M239.5 481.4 v3.2 M260.5 84.6 v-3.2 M260.5 481.4 v3.2 M303.5 84.6 v-3.2 M303.5 481.4 v3.2 M324.5 84.6 v-3.2 M324.5 481.4 v3.2 M346.5 84.6 v-3.2 M346.5 481.4 v3.2 M388.5 84.6 v-3.2 M388.5 481.4 v3.2 M410.5 84.6 v-3.2 M410.5 481.4 v3.2 M431.5 84.6 v-3.2 M431.5 481.4 v3.2 M474.5 84.6 v-3.2 M474.5 481.4 v3.2 M495.5 84.6 v-3.2 M495.5 481.4 v3.2 M516.5 84.6 v-3.2 M516.5 481.4 v3.2 M559.5 84.6 v-3.2 M559.5 481.4 v3.2 M580.5 84.6 v-3.2 M580.5 481.4 v3.2 M602.5 84.6 v-3.2 M602.5 481.4 v3.2 M113.4 150.5 h-3.2 M623.45 150.5 h3.2 M113.4 283.5 h-3.2 M623.45 283.5 h3.2 M113.4 415.5 h-3.2 M623.45 415.5 h3.2" stroke="#000" stroke-width="0.55" fill="none"/>
<g id="txt" style="will-change:transform" stroke="#000" stroke-width="0.5" stroke-linejoin="round">
<text x="211.5" y="46" font-size="36" text-anchor="start" textLength="120.5" lengthAdjust="spacingAndGlyphs">&lt;w’ T’&gt;</text>
<text x="340.5" y="46" font-size="36" text-anchor="start">/</text>
<text x="360.3" y="46" font-size="36" text-anchor="start" textLength="166.8" lengthAdjust="spacingAndGlyphs">2007-09-14</text>
<text x="83.6" y="69.9" font-size="16.6" text-anchor="start" textLength="61" lengthAdjust="spacingAndGlyphs">[˚C·m/s]</text>
<text x="104" y="91.1" font-size="19.6" text-anchor="end" textLength="26" lengthAdjust="spacingAndGlyphs">0.2</text>
<text x="104" y="224.1" font-size="19.6" text-anchor="end" textLength="26" lengthAdjust="spacingAndGlyphs">0.1</text>
<text x="104" y="356.1" font-size="19.6" text-anchor="end" textLength="26" lengthAdjust="spacingAndGlyphs">0.0</text>
<text x="104" y="488.1" font-size="19.6" text-anchor="end" textLength="31.2" lengthAdjust="spacingAndGlyphs">-0.1</text>
<text x="197.8" y="506.8" font-size="20" text-anchor="middle">00:00</text>
<text x="283.1" y="506.8" font-size="20" text-anchor="middle">00:00</text>
<text x="368.4" y="506.8" font-size="20" text-anchor="middle">00:00</text>
<text x="453.7" y="506.8" font-size="20" text-anchor="middle">00:00</text>
<text x="539.0" y="506.8" font-size="20" text-anchor="middle">00:00</text>
<text x="155.6" y="530.5" font-size="20" text-anchor="middle" textLength="56" lengthAdjust="spacingAndGlyphs">Sep-09</text>
<text x="240.8" y="530.5" font-size="20" text-anchor="middle" textLength="56" lengthAdjust="spacingAndGlyphs">Sep-10</text>
<text x="325.9" y="530.5" font-size="20" text-anchor="middle" textLength="56" lengthAdjust="spacingAndGlyphs">Sep-11</text>
<text x="411.1" y="530.5" font-size="20" text-anchor="middle" textLength="56" lengthAdjust="spacingAndGlyphs">Sep-12</text>
<text x="496.2" y="530.5" font-size="20" text-anchor="middle" textLength="56" lengthAdjust="spacingAndGlyphs">Sep-13</text>
<text x="581.4" y="530.5" font-size="20" text-anchor="middle" textLength="56" lengthAdjust="spacingAndGlyphs">Sep-14</text>
<text x="370.2" y="554.5" font-size="24" text-anchor="middle">(LST)</text>
<rect x="638.1" y="396.4" width="183.9" height="85.1" fill="#fff" stroke="#000" stroke-width="1.25"/>
<path d="M643.4 410.6 H654.9" stroke="#f00" stroke-width="0.4"/><circle cx="649.1" cy="410.6" r="1.35" fill="none" stroke="#f00" stroke-width="0.65"/>
<text x="659.8" y="415.5" font-size="18" text-anchor="start">at 29.5 m SE</text>
<path d="M643.4 439.3 H654.9" stroke="#0f0" stroke-width="0.4"/><circle cx="649.1" cy="439.3" r="1.35" fill="none" stroke="#0f0" stroke-width="0.65"/>
<text x="659.8" y="444.4" font-size="18" text-anchor="start">at 29.5 m NW</text>
<path d="M643.4 467.3 H654.9" stroke="#00f" stroke-width="0.4"/><circle cx="649.1" cy="467.3" r="1.35" fill="none" stroke="#00f" stroke-width="0.65"/>
<text x="659.8" y="471.9" font-size="18" text-anchor="start">at 1.6 m</text>
<text x="780.5" y="532.3" font-size="11.6" text-anchor="end" textLength="119.5" lengthAdjust="spacing" stroke-width="0.12">©TERC, Univ. Tsukuba</text>
<text x="823" y="549.6" font-size="13.6" text-anchor="end" textLength="168" lengthAdjust="spacing" stroke-width="0.12">Observed at TERC Tower site</text>
<text x="823" y="566.8" font-size="13.6" text-anchor="end" textLength="261.5" lengthAdjust="spacing" stroke-width="0.12">Created Automatically at 2007-09-14/23:32:13</text>
<text x="823" y="583.7" font-size="13.6" text-anchor="end" textLength="398" lengthAdjust="spacing" stroke-width="0.12">Data source : /home/hojyo/new/TERC-data/sorted_data/FLUX.30m.dat</text>
</g>
<g transform="translate(785,503.8)">
<path d="M1.5 0 H32.6 Q34.1 0 34.1 1.5 V34 H0 V1.5 Q0 0 1.5 0 Z" fill="#0066ff"/>
<path d="M11.2 -0.5 C11.6 1.2 12.3 2.6 13.2 3.8 C14 5.2 14.8 6 16 6 H18.6 C19.8 6 20.6 5.2 21.4 3.8 C22.3 2.6 23 1.2 23.2 -0.5 Z" fill="#fff"/>
<path d="M17.1 8.1 C17.6 10.2 19.9 12.6 19.9 14.8 C19.9 16.7 18.7 17.9 17.1 17.9 C15.5 17.9 13.9 16.7 13.9 14.8 C13.9 12.6 16.6 10.2 17.1 8.1 Z" fill="#fff"/>
<path d="M-0.2 10.8 A18.855 18.855 0 0 0 34.3 10.8" fill="none" stroke="#fff" stroke-width="1"/>
<path d="M-0.2 15.5 A20.43 20.43 0 0 0 34.3 15.5" fill="none" stroke="#fff" stroke-width="1"/>
<g font-family="'Liberation Sans',sans-serif" font-weight="bold" font-size="8.6" fill="#fff" stroke="none" text-anchor="middle">
<text transform="translate(3.9,32.9) scale(0.8,1)">T</text><text transform="translate(12,32.9) scale(0.8,1)">E</text><text transform="translate(21.6,32.9) scale(0.8,1)">R</text><text transform="translate(30.1,32.9) scale(0.8,1)">C</text></g>
</g>

</svg>
</body></html>
